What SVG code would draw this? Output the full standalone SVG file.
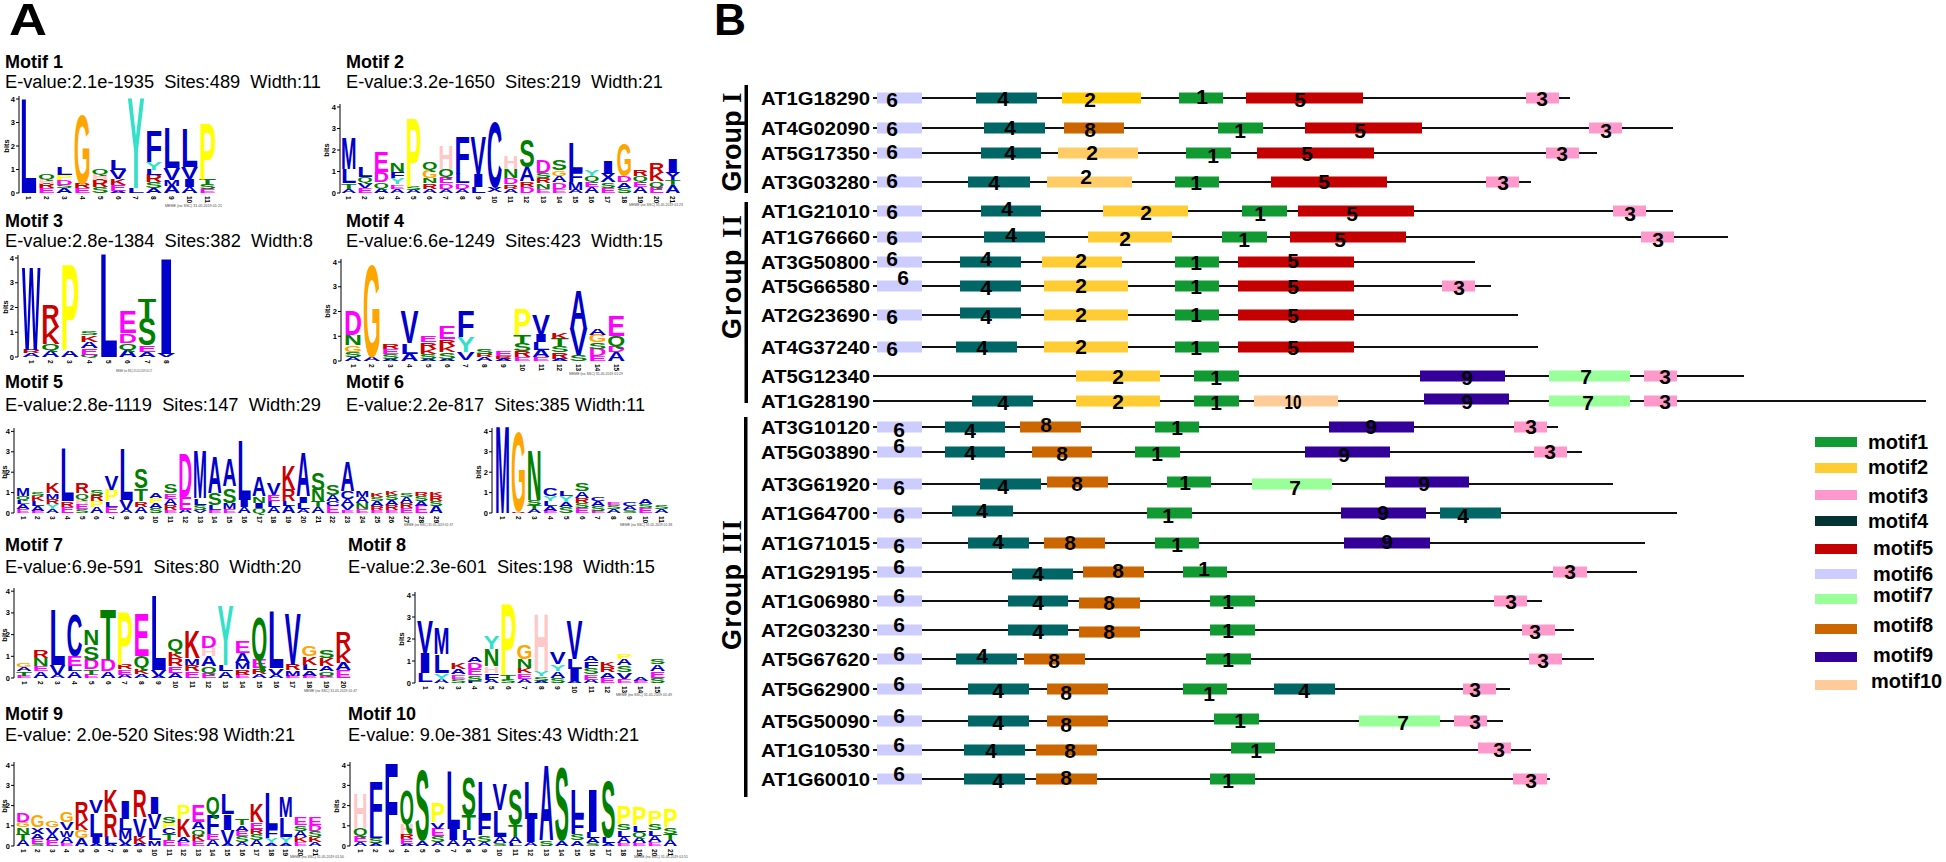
<svg xmlns="http://www.w3.org/2000/svg" width="1946" height="862" viewBox="0 0 1946 862">
<style>
text{font-family:'Liberation Sans',Arial,sans-serif}
.big{font-size:44px;font-weight:900}
.h{font-size:18px;font-weight:bold}
.e{font-size:18px;white-space:pre}
.lg text{font-size:1.42px;font-weight:bold}
.B{fill:#0000cc}.G{fill:#008000}.M{fill:#ff00ff}.R{fill:#cc0000}.P{fill:#ffc8c8}.O{fill:#ffa500}.Y{fill:#ffff00}.T{fill:#33e0c8}
.ax{stroke:#000;stroke-width:1;fill:none}
.tk{font-size:7.5px;font-weight:bold;text-anchor:end}
.bt{font-size:7.5px;font-weight:bold;text-anchor:middle}
.cn text{font-size:6.5px;font-weight:bold}
.mm{font-size:4px;fill:#444}
.lab{font-size:18px;font-weight:bold}
.ln{stroke:#111;stroke-width:2;fill:none}
.nm{font-size:21px;font-weight:bold;text-anchor:middle}
.grp{font-size:27px;font-weight:bold;text-anchor:middle}
.ser{font-family:'Liberation Serif','Times New Roman',serif}
.leg{font-size:20px;font-weight:bold}
.m1{fill:#129a32}.m2{fill:#ffcc33}.m3{fill:#ff99cc}.m4{fill:#006666}.m5{fill:#c40000}.m6{fill:#ccccff}.m7{fill:#99ff99}.m8{fill:#cc6600}.m9{fill:#330099}.m10{fill:#ffcc99}
</style>

<g id="panelA">
<text class="big" x="9" y="35" textLength="38" lengthAdjust="spacingAndGlyphs">A</text>

<g id="motif1-title">
<text class="h" x="5" y="68">Motif 1</text>
<text class="e" x="5" y="88" textLength="316" lengthAdjust="spacingAndGlyphs">E-value:2.1e-1935  Sites:489  Width:11</text>
</g>
<g id="motif2-title">
<text class="h" x="346" y="68">Motif 2</text>
<text class="e" x="346" y="88" textLength="317" lengthAdjust="spacingAndGlyphs">E-value:3.2e-1650  Sites:219  Width:21</text>
</g>
<g id="motif3-title">
<text class="h" x="5" y="227">Motif 3</text>
<text class="e" x="5" y="247" textLength="308" lengthAdjust="spacingAndGlyphs">E-value:2.8e-1384  Sites:382  Width:8</text>
</g>
<g id="motif4-title">
<text class="h" x="346" y="227">Motif 4</text>
<text class="e" x="346" y="247" textLength="317" lengthAdjust="spacingAndGlyphs">E-value:6.6e-1249  Sites:423  Width:15</text>
</g>
<g id="motif5-title">
<text class="h" x="5" y="388">Motif 5</text>
<text class="e" x="5" y="411" textLength="316" lengthAdjust="spacingAndGlyphs">E-value:2.8e-1119  Sites:147  Width:29</text>
</g>
<g id="motif6-title">
<text class="h" x="346" y="388">Motif 6</text>
<text class="e" x="346" y="411" textLength="299" lengthAdjust="spacingAndGlyphs">E-value:2.2e-817  Sites:385 Width:11</text>
</g>
<g id="motif7-title">
<text class="h" x="5" y="551">Motif 7</text>
<text class="e" x="5" y="573" textLength="296" lengthAdjust="spacingAndGlyphs">E-value:6.9e-591  Sites:80  Width:20</text>
</g>
<g id="motif8-title">
<text class="h" x="348" y="551">Motif 8</text>
<text class="e" x="348" y="573" textLength="307" lengthAdjust="spacingAndGlyphs">E-value:2.3e-601  Sites:198  Width:15</text>
</g>
<g id="motif9-title">
<text class="h" x="5" y="720">Motif 9</text>
<text class="e" x="5" y="741" textLength="290" lengthAdjust="spacingAndGlyphs">E-value: 2.0e-520 Sites:98 Width:21</text>
</g>
<g id="motif10-title">
<text class="h" x="348" y="720">Motif 10</text>
<text class="e" x="348" y="741" textLength="291" lengthAdjust="spacingAndGlyphs">E-value: 9.0e-381 Sites:43 Width:21</text>
</g>

<g id="axes">
<path class="ax" d="M19,193V96M16,193H19M16,169.5H19M16,146H19M16,122.5H19M16,99H19"/>
<text class="tk" x="15" y="195.5">0</text><text class="tk" x="15" y="172">1</text><text class="tk" x="15" y="148.5">2</text><text class="tk" x="15" y="125">3</text><text class="tk" x="15" y="101.5">4</text>
<text class="bt" transform="translate(9,146) rotate(-90)">bits</text>

<path class="ax" d="M340,193V104M337,193H340M337,171.5H340M337,150H340M337,128.5H340M337,107H340"/>
<text class="tk" x="336" y="195.5">0</text><text class="tk" x="336" y="174">1</text><text class="tk" x="336" y="152.5">2</text><text class="tk" x="336" y="131">3</text><text class="tk" x="336" y="109.5">4</text>
<text class="bt" transform="translate(329,150) rotate(-90)">bits</text>

<path class="ax" d="M18,357V255M15,357H18M15,332.25H18M15,307.5H18M15,282.75H18M15,258H18"/>
<text class="tk" x="14" y="359.5">0</text><text class="tk" x="14" y="334.75">1</text><text class="tk" x="14" y="310">2</text><text class="tk" x="14" y="285.25">3</text><text class="tk" x="14" y="260.5">4</text>
<text class="bt" transform="translate(8,307) rotate(-90)">bits</text>

<path class="ax" d="M341,361V259M338,361H341M338,336.25H341M338,311.5H341M338,286.75H341M338,262H341"/>
<text class="tk" x="337" y="363.5">0</text><text class="tk" x="337" y="338.75">1</text><text class="tk" x="337" y="314">2</text><text class="tk" x="337" y="289.25">3</text><text class="tk" x="337" y="264.5">4</text>
<text class="bt" transform="translate(330,311) rotate(-90)">bits</text>

<path class="ax" d="M14,513V428M11,513H14M11,492.6H14M11,472.2H14M11,451.8H14M11,431.4H14"/>
<text class="tk" x="10" y="515.5">0</text><text class="tk" x="10" y="495">1</text><text class="tk" x="10" y="474.7">2</text><text class="tk" x="10" y="454.3">3</text><text class="tk" x="10" y="434">4</text>
<text class="bt" transform="translate(7,472) rotate(-90)">bits</text>

<path class="ax" d="M492,513V428M489,513H492M489,492.6H492M489,472.2H492M489,451.8H492M489,431.4H492"/>
<text class="tk" x="488" y="515.5">0</text><text class="tk" x="488" y="495">1</text><text class="tk" x="488" y="474.7">2</text><text class="tk" x="488" y="454.3">3</text><text class="tk" x="488" y="434">4</text>
<text class="bt" transform="translate(481,472) rotate(-90)">bits</text>

<path class="ax" d="M14,678V588M11,678H14M11,656.3H14M11,634.6H14M11,612.9H14M11,591.2H14"/>
<text class="tk" x="10" y="680.5">0</text><text class="tk" x="10" y="658.8">1</text><text class="tk" x="10" y="637">2</text><text class="tk" x="10" y="615.4">3</text><text class="tk" x="10" y="593.7">4</text>
<text class="bt" transform="translate(7,635) rotate(-90)">bits</text>

<path class="ax" d="M415,683V592M412,683H415M412,661H415M412,639H415M412,617H415M412,595H415"/>
<text class="tk" x="411" y="685.5">0</text><text class="tk" x="411" y="663.5">1</text><text class="tk" x="411" y="641.5">2</text><text class="tk" x="411" y="619.5">3</text><text class="tk" x="411" y="597.5">4</text>
<text class="bt" transform="translate(404,639) rotate(-90)">bits</text>

<path class="ax" d="M14,846V762M11,846H14M11,825.8H14M11,805.6H14M11,785.4H14M11,765.2H14"/>
<text class="tk" x="10" y="848.5">0</text><text class="tk" x="10" y="828.3">1</text><text class="tk" x="10" y="808">2</text><text class="tk" x="10" y="788">3</text><text class="tk" x="10" y="767.7">4</text>
<text class="bt" transform="translate(7,806) rotate(-90)">bits</text>

<path class="ax" d="M350,846V762M347,846H350M347,825.8H350M347,805.6H350M347,785.4H350M347,765.2H350"/>
<text class="tk" x="346" y="848.5">0</text><text class="tk" x="346" y="828.3">1</text><text class="tk" x="346" y="808">2</text><text class="tk" x="346" y="788">3</text><text class="tk" x="346" y="767.7">4</text>
<text class="bt" transform="translate(339,806) rotate(-90)">bits</text>
</g>

<g class="cn" transform="translate(0,196) rotate(90)"><text y="-26">1</text><text y="-43.9">2</text><text y="-61.8">3</text><text y="-79.7">4</text><text y="-97.6">5</text><text y="-115.5">6</text><text y="-133.4">7</text><text y="-151.3">8</text><text y="-169.2">9</text><text y="-187.1">10</text><text y="-205">11</text></g>
<g class="cn" transform="translate(0,196) rotate(90)"><text y="-346.25">1</text><text y="-362.45">2</text><text y="-378.65">3</text><text y="-394.85">4</text><text y="-411.05">5</text><text y="-427.25">6</text><text y="-443.45">7</text><text y="-459.65">8</text><text y="-475.85">9</text><text y="-492.05">10</text><text y="-508.25">11</text><text y="-524.45">12</text><text y="-540.65">13</text><text y="-556.85">14</text><text y="-573.05">15</text><text y="-589.25">16</text><text y="-605.45">17</text><text y="-621.65">18</text><text y="-637.85">19</text><text y="-654.05">20</text><text y="-670.25">21</text></g>
<g class="cn" transform="translate(0,360) rotate(90)"><text y="-28.75">1</text><text y="-48.05">2</text><text y="-67.35">3</text><text y="-86.65">4</text><text y="-105.95">5</text><text y="-125.25">6</text><text y="-144.55">7</text><text y="-163.85">8</text></g>
<g class="cn" transform="translate(0,364) rotate(90)"><text y="-350.5">1</text><text y="-369.3">2</text><text y="-388.1">3</text><text y="-406.9">4</text><text y="-425.7">5</text><text y="-444.5">6</text><text y="-463.3">7</text><text y="-482.1">8</text><text y="-500.9">9</text><text y="-519.7">10</text><text y="-538.5">11</text><text y="-557.3">12</text><text y="-576.1">13</text><text y="-594.9">14</text><text y="-613.7">15</text></g>
<g class="cn" transform="translate(0,516) rotate(90)"><text y="-20.5">1</text><text y="-35.25">2</text><text y="-50">3</text><text y="-64.75">4</text><text y="-79.5">5</text><text y="-94.25">6</text><text y="-109">7</text><text y="-123.75">8</text><text y="-138.5">9</text><text y="-153.25">10</text><text y="-168">11</text><text y="-182.75">12</text><text y="-197.5">13</text><text y="-212.25">14</text><text y="-227">15</text><text y="-241.75">16</text><text y="-256.5">17</text><text y="-271.25">18</text><text y="-286">19</text><text y="-300.75">20</text><text y="-315.5">21</text><text y="-330.25">22</text><text y="-345">23</text><text y="-359.75">24</text><text y="-374.5">25</text><text y="-389.25">26</text><text y="-404">27</text><text y="-418.75">28</text><text y="-433.5">29</text></g>
<g class="cn" transform="translate(0,516) rotate(90)"><text y="-500">1</text><text y="-515.9">2</text><text y="-531.8">3</text><text y="-547.7">4</text><text y="-563.6">5</text><text y="-579.5">6</text><text y="-595.4">7</text><text y="-611.3">8</text><text y="-627.2">9</text><text y="-643.1">10</text><text y="-659">11</text></g>
<g class="cn" transform="translate(0,681) rotate(90)"><text y="-21.5">1</text><text y="-38.3">2</text><text y="-55.1">3</text><text y="-71.9">4</text><text y="-88.7">5</text><text y="-105.5">6</text><text y="-122.3">7</text><text y="-139.1">8</text><text y="-155.9">9</text><text y="-172.7">10</text><text y="-189.5">11</text><text y="-206.3">12</text><text y="-223.1">13</text><text y="-239.9">14</text><text y="-256.7">15</text><text y="-273.5">16</text><text y="-290.3">17</text><text y="-307.1">18</text><text y="-323.9">19</text><text y="-340.7">20</text></g>
<g class="cn" transform="translate(0,686) rotate(90)"><text y="-422.5">1</text><text y="-439.1">2</text><text y="-455.7">3</text><text y="-472.3">4</text><text y="-488.9">5</text><text y="-505.5">6</text><text y="-522.1">7</text><text y="-538.7">8</text><text y="-555.3">9</text><text y="-571.9">10</text><text y="-588.5">11</text><text y="-605.1">12</text><text y="-621.7">13</text><text y="-638.3">14</text><text y="-654.9">15</text></g>
<g class="cn" transform="translate(0,849) rotate(90)"><text y="-20.5">1</text><text y="-35.1">2</text><text y="-49.7">3</text><text y="-64.3">4</text><text y="-78.9">5</text><text y="-93.5">6</text><text y="-108.1">7</text><text y="-122.7">8</text><text y="-137.3">9</text><text y="-151.9">10</text><text y="-166.5">11</text><text y="-181.1">12</text><text y="-195.7">13</text><text y="-210.3">14</text><text y="-224.9">15</text><text y="-239.5">16</text><text y="-254.1">17</text><text y="-268.7">18</text><text y="-283.3">19</text><text y="-297.9">20</text><text y="-312.5">21</text></g>
<g class="cn" transform="translate(0,849) rotate(90)"><text y="-357.75">1</text><text y="-373.25">2</text><text y="-388.75">3</text><text y="-404.25">4</text><text y="-419.75">5</text><text y="-435.25">6</text><text y="-450.75">7</text><text y="-466.25">8</text><text y="-481.75">9</text><text y="-497.25">10</text><text y="-512.75">11</text><text y="-528.25">12</text><text y="-543.75">13</text><text y="-559.25">14</text><text y="-574.75">15</text><text y="-590.25">16</text><text y="-605.75">17</text><text y="-621.25">18</text><text y="-636.75">19</text><text y="-652.25">20</text><text y="-667.75">21</text></g>

<g id="meme-stamps">
<text class="mm" x="165" y="207" textLength="57" lengthAdjust="spacingAndGlyphs">MEME (no SSC) 31.05.2019 01:21</text>
<text class="mm" x="629" y="206" textLength="54" lengthAdjust="spacingAndGlyphs">MEME (no SSC) 31.05.2019 01:23</text>
<text class="mm" x="116" y="372" textLength="36" lengthAdjust="spacingAndGlyphs">MEME (no SSC) 31.05.2019 01:27</text>
<text class="mm" x="569" y="375" textLength="54" lengthAdjust="spacingAndGlyphs">MEME (no SSC) 31.05.2019 01:29</text>
<text class="mm" x="404" y="526" textLength="49" lengthAdjust="spacingAndGlyphs">MEME (no SSC) 31.05.2019 01:37</text>
<text class="mm" x="620" y="526" textLength="52" lengthAdjust="spacingAndGlyphs">MEME (no SSC) 31.05.2019 01:38</text>
<text class="mm" x="304" y="692" textLength="53" lengthAdjust="spacingAndGlyphs">MEME (no SSC) 31.05.2019 01:47</text>
<text class="mm" x="616" y="696" textLength="56" lengthAdjust="spacingAndGlyphs">MEME (no SSC) 31.05.2019 01:49</text>
<text class="mm" x="290" y="858" textLength="54" lengthAdjust="spacingAndGlyphs">MEME (no SSC) 31.05.2019 01:50</text>
<text class="mm" x="634" y="858" textLength="54" lengthAdjust="spacingAndGlyphs">MEME (no SSC) 31.05.2019 01:51</text>
</g>

<g id="logo1" class="lg" transform="translate(20,193) scale(1,23.5)">
<text class="B" transform="translate(0,0)scale(1,4.05)" textLength="17" lengthAdjust="spacingAndGlyphs">L</text>
<text class="M" transform="translate(17.9,0)scale(1,.2)" textLength="17" lengthAdjust="spacingAndGlyphs">E</text>
<text class="R" transform="translate(17.9,-.2)scale(1,.2)" textLength="17" lengthAdjust="spacingAndGlyphs">R</text>
<text class="P" transform="translate(17.9,-.4)scale(1,.2)" textLength="17" lengthAdjust="spacingAndGlyphs">H</text>
<text class="G" transform="translate(17.9,-.6)scale(1,.2)" textLength="17" lengthAdjust="spacingAndGlyphs">Q</text>
<text class="B" transform="translate(35.8,0)scale(1,.2)" textLength="17" lengthAdjust="spacingAndGlyphs">A</text>
<text class="G" transform="translate(35.8,-.2)scale(1,.15)" textLength="17" lengthAdjust="spacingAndGlyphs">S</text>
<text class="M" transform="translate(35.8,-.35)scale(1,.2)" textLength="17" lengthAdjust="spacingAndGlyphs">D</text>
<text class="Y" transform="translate(35.8,-.55)scale(1,.2)" textLength="17" lengthAdjust="spacingAndGlyphs">P</text>
<text class="B" transform="translate(35.8,-.75)scale(1,.3)" textLength="17" lengthAdjust="spacingAndGlyphs">L</text>
<text class="M" transform="translate(53.7,0)scale(1,.2)" textLength="17" lengthAdjust="spacingAndGlyphs">E</text>
<text class="R" transform="translate(53.7,-.2)scale(1,.2)" textLength="17" lengthAdjust="spacingAndGlyphs">R</text>
<text class="O" transform="translate(53.7,-.4)scale(1,2.95)" textLength="17" lengthAdjust="spacingAndGlyphs">G</text>
<text class="G" transform="translate(71.6,0)scale(1,.25)" textLength="17" lengthAdjust="spacingAndGlyphs">S</text>
<text class="R" transform="translate(71.6,-.25)scale(1,.3)" textLength="17" lengthAdjust="spacingAndGlyphs">R</text>
<text class="P" transform="translate(71.6,-.55)scale(1,.25)" textLength="17" lengthAdjust="spacingAndGlyphs">H</text>
<text class="G" transform="translate(71.6,-.8)scale(1,.23)" textLength="17" lengthAdjust="spacingAndGlyphs">Q</text>
<text class="B" transform="translate(89.5,0)scale(1,.1)" textLength="17" lengthAdjust="spacingAndGlyphs">A</text>
<text class="M" transform="translate(89.5,-.1)scale(1,.25)" textLength="17" lengthAdjust="spacingAndGlyphs">E</text>
<text class="R" transform="translate(89.5,-.35)scale(1,.25)" textLength="17" lengthAdjust="spacingAndGlyphs">K</text>
<text class="B" transform="translate(89.5,-.6)scale(1,.4)" textLength="17" lengthAdjust="spacingAndGlyphs">V</text>
<text class="B" transform="translate(89.5,-1)scale(1,.42)" textLength="17" lengthAdjust="spacingAndGlyphs">L</text>
<text class="B" transform="translate(107.4,0)scale(1,.2)" textLength="17" lengthAdjust="spacingAndGlyphs">L</text>
<text class="T" transform="translate(107.4,-.2)scale(1,3.9)" textLength="17" lengthAdjust="spacingAndGlyphs">Y</text>
<text class="B" transform="translate(125.3,0)scale(1,.2)" textLength="17" lengthAdjust="spacingAndGlyphs">A</text>
<text class="G" transform="translate(125.3,-.2)scale(1,.25)" textLength="17" lengthAdjust="spacingAndGlyphs">S</text>
<text class="R" transform="translate(125.3,-.45)scale(1,.3)" textLength="17" lengthAdjust="spacingAndGlyphs">R</text>
<text class="B" transform="translate(125.3,-.75)scale(1,.25)" textLength="17" lengthAdjust="spacingAndGlyphs">L</text>
<text class="T" transform="translate(125.3,-1)scale(1,.3)" textLength="17" lengthAdjust="spacingAndGlyphs">Y</text>
<text class="B" transform="translate(125.3,-1.3)scale(1,1.32)" textLength="17" lengthAdjust="spacingAndGlyphs">F</text>
<text class="B" transform="translate(143.2,0)scale(1,.3)" textLength="17" lengthAdjust="spacingAndGlyphs">A</text>
<text class="B" transform="translate(143.2,-.3)scale(1,.25)" textLength="17" lengthAdjust="spacingAndGlyphs">M</text>
<text class="B" transform="translate(143.2,-.55)scale(1,.5)" textLength="17" lengthAdjust="spacingAndGlyphs">V</text>
<text class="B" transform="translate(143.2,-1.05)scale(1,1.72)" textLength="17" lengthAdjust="spacingAndGlyphs">L</text>
<text class="B" transform="translate(161.1,0)scale(1,.25)" textLength="17" lengthAdjust="spacingAndGlyphs">A</text>
<text class="B" transform="translate(161.1,-.25)scale(1,.35)" textLength="17" lengthAdjust="spacingAndGlyphs">I</text>
<text class="B" transform="translate(161.1,-.6)scale(1,.5)" textLength="17" lengthAdjust="spacingAndGlyphs">V</text>
<text class="B" transform="translate(161.1,-1.1)scale(1,1.67)" textLength="17" lengthAdjust="spacingAndGlyphs">L</text>
<text class="M" transform="translate(179,0)scale(1,.15)" textLength="17" lengthAdjust="spacingAndGlyphs">E</text>
<text class="G" transform="translate(179,-.15)scale(1,.2)" textLength="17" lengthAdjust="spacingAndGlyphs">S</text>
<text class="G" transform="translate(179,-.35)scale(1,.25)" textLength="17" lengthAdjust="spacingAndGlyphs">T</text>
<text class="Y" transform="translate(179,-.6)scale(1,2.38)" textLength="17" lengthAdjust="spacingAndGlyphs">P</text>
</g>

<g id="logo2" class="lg" transform="translate(341,193) scale(1,21.5)">
<text class="B" transform="translate(0,0)scale(1,.2)" textLength="15.5" lengthAdjust="spacingAndGlyphs">A</text>
<text class="G" transform="translate(0,-.2)scale(1,.25)" textLength="15.5" lengthAdjust="spacingAndGlyphs">T</text>
<text class="B" transform="translate(0,-.45)scale(1,.65)" textLength="15.5" lengthAdjust="spacingAndGlyphs">L</text>
<text class="B" transform="translate(0,-1.1)scale(1,1.46)" textLength="15.5" lengthAdjust="spacingAndGlyphs">M</text>
<text class="M" transform="translate(16.2,0)scale(1,.25)" textLength="15.5" lengthAdjust="spacingAndGlyphs">E</text>
<text class="B" transform="translate(16.2,-.25)scale(1,.25)" textLength="15.5" lengthAdjust="spacingAndGlyphs">V</text>
<text class="G" transform="translate(16.2,-.5)scale(1,.25)" textLength="15.5" lengthAdjust="spacingAndGlyphs">Q</text>
<text class="B" transform="translate(16.2,-.75)scale(1,.5)" textLength="15.5" lengthAdjust="spacingAndGlyphs">L</text>
<text class="B" transform="translate(32.4,0)scale(1,.25)" textLength="15.5" lengthAdjust="spacingAndGlyphs">A</text>
<text class="G" transform="translate(32.4,-.25)scale(1,.25)" textLength="15.5" lengthAdjust="spacingAndGlyphs">Q</text>
<text class="M" transform="translate(32.4,-.5)scale(1,.47)" textLength="15.5" lengthAdjust="spacingAndGlyphs">D</text>
<text class="M" transform="translate(32.4,-.97)scale(1,.97)" textLength="15.5" lengthAdjust="spacingAndGlyphs">E</text>
<text class="B" transform="translate(48.6,0)scale(1,.2)" textLength="15.5" lengthAdjust="spacingAndGlyphs">A</text>
<text class="M" transform="translate(48.6,-.2)scale(1,.2)" textLength="15.5" lengthAdjust="spacingAndGlyphs">E</text>
<text class="T" transform="translate(48.6,-.4)scale(1,.3)" textLength="15.5" lengthAdjust="spacingAndGlyphs">Y</text>
<text class="B" transform="translate(48.6,-.7)scale(1,.3)" textLength="15.5" lengthAdjust="spacingAndGlyphs">F</text>
<text class="G" transform="translate(48.6,-1)scale(1,.4)" textLength="15.5" lengthAdjust="spacingAndGlyphs">N</text>
<text class="B" transform="translate(64.8,0)scale(1,.15)" textLength="15.5" lengthAdjust="spacingAndGlyphs">A</text>
<text class="G" transform="translate(64.8,-.15)scale(1,.15)" textLength="15.5" lengthAdjust="spacingAndGlyphs">S</text>
<text class="Y" transform="translate(64.8,-.3)scale(1,3.2)" textLength="15.5" lengthAdjust="spacingAndGlyphs">P</text>
<text class="B" transform="translate(81,0)scale(1,.2)" textLength="15.5" lengthAdjust="spacingAndGlyphs">A</text>
<text class="R" transform="translate(81,-.2)scale(1,.25)" textLength="15.5" lengthAdjust="spacingAndGlyphs">R</text>
<text class="G" transform="translate(81,-.45)scale(1,.25)" textLength="15.5" lengthAdjust="spacingAndGlyphs">N</text>
<text class="O" transform="translate(81,-.7)scale(1,.35)" textLength="15.5" lengthAdjust="spacingAndGlyphs">G</text>
<text class="G" transform="translate(81,-1.05)scale(1,.35)" textLength="15.5" lengthAdjust="spacingAndGlyphs">Q</text>
<text class="B" transform="translate(97.2,0)scale(1,.2)" textLength="15.5" lengthAdjust="spacingAndGlyphs">A</text>
<text class="M" transform="translate(97.2,-.2)scale(1,.25)" textLength="15.5" lengthAdjust="spacingAndGlyphs">D</text>
<text class="M" transform="translate(97.2,-.45)scale(1,.3)" textLength="15.5" lengthAdjust="spacingAndGlyphs">E</text>
<text class="G" transform="translate(97.2,-.75)scale(1,.35)" textLength="15.5" lengthAdjust="spacingAndGlyphs">Q</text>
<text class="P" transform="translate(97.2,-1.1)scale(1,1.07)" textLength="15.5" lengthAdjust="spacingAndGlyphs">H</text>
<text class="B" transform="translate(113.4,0)scale(1,.2)" textLength="15.5" lengthAdjust="spacingAndGlyphs">A</text>
<text class="M" transform="translate(113.4,-.2)scale(1,.25)" textLength="15.5" lengthAdjust="spacingAndGlyphs">D</text>
<text class="B" transform="translate(113.4,-.45)scale(1,.45)" textLength="15.5" lengthAdjust="spacingAndGlyphs">L</text>
<text class="B" transform="translate(113.4,-.9)scale(1,1.74)" textLength="15.5" lengthAdjust="spacingAndGlyphs">F</text>
<text class="B" transform="translate(129.6,0)scale(1,.3)" textLength="15.5" lengthAdjust="spacingAndGlyphs">L</text>
<text class="B" transform="translate(129.6,-.3)scale(1,.6)" textLength="15.5" lengthAdjust="spacingAndGlyphs">I</text>
<text class="B" transform="translate(129.6,-.9)scale(1,1.74)" textLength="15.5" lengthAdjust="spacingAndGlyphs">V</text>
<text class="B" transform="translate(145.8,-.05)scale(1,.25)" textLength="15.5" lengthAdjust="spacingAndGlyphs">X</text>
<text class="B" transform="translate(145.8,-.3)scale(1,3.03)" textLength="15.5" lengthAdjust="spacingAndGlyphs">C</text>
<text class="B" transform="translate(162,0)scale(1,.2)" textLength="15.5" lengthAdjust="spacingAndGlyphs">A</text>
<text class="R" transform="translate(162,-.2)scale(1,.2)" textLength="15.5" lengthAdjust="spacingAndGlyphs">R</text>
<text class="M" transform="translate(162,-.4)scale(1,.3)" textLength="15.5" lengthAdjust="spacingAndGlyphs">D</text>
<text class="G" transform="translate(162,-.7)scale(1,.4)" textLength="15.5" lengthAdjust="spacingAndGlyphs">N</text>
<text class="P" transform="translate(162,-1.1)scale(1,.6)" textLength="15.5" lengthAdjust="spacingAndGlyphs">H</text>
<text class="M" transform="translate(178.2,0)scale(1,.3)" textLength="15.5" lengthAdjust="spacingAndGlyphs">D</text>
<text class="R" transform="translate(178.2,-.3)scale(1,.25)" textLength="15.5" lengthAdjust="spacingAndGlyphs">R</text>
<text class="B" transform="translate(178.2,-.55)scale(1,.65)" textLength="15.5" lengthAdjust="spacingAndGlyphs">A</text>
<text class="G" transform="translate(178.2,-1.2)scale(1,1.28)" textLength="15.5" lengthAdjust="spacingAndGlyphs">S</text>
<text class="M" transform="translate(194.4,0)scale(1,.2)" textLength="15.5" lengthAdjust="spacingAndGlyphs">E</text>
<text class="G" transform="translate(194.4,-.2)scale(1,.25)" textLength="15.5" lengthAdjust="spacingAndGlyphs">N</text>
<text class="R" transform="translate(194.4,-.45)scale(1,.25)" textLength="15.5" lengthAdjust="spacingAndGlyphs">R</text>
<text class="G" transform="translate(194.4,-.7)scale(1,.25)" textLength="15.5" lengthAdjust="spacingAndGlyphs">S</text>
<text class="M" transform="translate(194.4,-.95)scale(1,.6)" textLength="15.5" lengthAdjust="spacingAndGlyphs">D</text>
<text class="M" transform="translate(210.6,0)scale(1,.2)" textLength="15.5" lengthAdjust="spacingAndGlyphs">E</text>
<text class="M" transform="translate(210.6,-.2)scale(1,.3)" textLength="15.5" lengthAdjust="spacingAndGlyphs">D</text>
<text class="B" transform="translate(210.6,-.5)scale(1,.3)" textLength="15.5" lengthAdjust="spacingAndGlyphs">A</text>
<text class="O" transform="translate(210.6,-.8)scale(1,.25)" textLength="15.5" lengthAdjust="spacingAndGlyphs">G</text>
<text class="G" transform="translate(210.6,-1.05)scale(1,.5)" textLength="15.5" lengthAdjust="spacingAndGlyphs">S</text>
<text class="B" transform="translate(226.8,0)scale(1,.15)" textLength="15.5" lengthAdjust="spacingAndGlyphs">A</text>
<text class="B" transform="translate(226.8,-.15)scale(1,.35)" textLength="15.5" lengthAdjust="spacingAndGlyphs">M</text>
<text class="B" transform="translate(226.8,-.5)scale(1,.5)" textLength="15.5" lengthAdjust="spacingAndGlyphs">F</text>
<text class="B" transform="translate(226.8,-1)scale(1,1.4)" textLength="15.5" lengthAdjust="spacingAndGlyphs">L</text>
<text class="B" transform="translate(243,0)scale(1,.3)" textLength="15.5" lengthAdjust="spacingAndGlyphs">A</text>
<text class="M" transform="translate(243,-.3)scale(1,.25)" textLength="15.5" lengthAdjust="spacingAndGlyphs">E</text>
<text class="G" transform="translate(243,-.55)scale(1,.25)" textLength="15.5" lengthAdjust="spacingAndGlyphs">Q</text>
<text class="T" transform="translate(243,-.8)scale(1,.3)" textLength="15.5" lengthAdjust="spacingAndGlyphs">Y</text>
<text class="M" transform="translate(259.2,0)scale(1,.25)" textLength="15.5" lengthAdjust="spacingAndGlyphs">E</text>
<text class="G" transform="translate(259.2,-.25)scale(1,.25)" textLength="15.5" lengthAdjust="spacingAndGlyphs">S</text>
<text class="B" transform="translate(259.2,-.5)scale(1,.4)" textLength="15.5" lengthAdjust="spacingAndGlyphs">X</text>
<text class="B" transform="translate(259.2,-.9)scale(1,.6)" textLength="15.5" lengthAdjust="spacingAndGlyphs">I</text>
<text class="G" transform="translate(275.4,0)scale(1,.25)" textLength="15.5" lengthAdjust="spacingAndGlyphs">S</text>
<text class="B" transform="translate(275.4,-.25)scale(1,.25)" textLength="15.5" lengthAdjust="spacingAndGlyphs">A</text>
<text class="M" transform="translate(275.4,-.5)scale(1,.3)" textLength="15.5" lengthAdjust="spacingAndGlyphs">D</text>
<text class="O" transform="translate(275.4,-.8)scale(1,1.5)" textLength="15.5" lengthAdjust="spacingAndGlyphs">G</text>
<text class="B" transform="translate(291.6,0)scale(1,.3)" textLength="15.5" lengthAdjust="spacingAndGlyphs">A</text>
<text class="M" transform="translate(291.6,-.3)scale(1,.25)" textLength="15.5" lengthAdjust="spacingAndGlyphs">E</text>
<text class="G" transform="translate(291.6,-.55)scale(1,.25)" textLength="15.5" lengthAdjust="spacingAndGlyphs">Q</text>
<text class="R" transform="translate(291.6,-.8)scale(1,.3)" textLength="15.5" lengthAdjust="spacingAndGlyphs">R</text>
<text class="M" transform="translate(307.8,0)scale(1,.3)" textLength="15.5" lengthAdjust="spacingAndGlyphs">E</text>
<text class="G" transform="translate(307.8,-.3)scale(1,.25)" textLength="15.5" lengthAdjust="spacingAndGlyphs">Q</text>
<text class="R" transform="translate(307.8,-.55)scale(1,.4)" textLength="15.5" lengthAdjust="spacingAndGlyphs">K</text>
<text class="R" transform="translate(307.8,-.95)scale(1,.45)" textLength="15.5" lengthAdjust="spacingAndGlyphs">R</text>
<text class="B" transform="translate(324,0)scale(1,.35)" textLength="15.5" lengthAdjust="spacingAndGlyphs">A</text>
<text class="G" transform="translate(324,-.35)scale(1,.25)" textLength="15.5" lengthAdjust="spacingAndGlyphs">T</text>
<text class="B" transform="translate(324,-.6)scale(1,.35)" textLength="15.5" lengthAdjust="spacingAndGlyphs">Y</text>
<text class="B" transform="translate(324,-.95)scale(1,.65)" textLength="15.5" lengthAdjust="spacingAndGlyphs">I</text>
</g>

<g id="logo3" class="lg" transform="translate(22,357) scale(1,24.75)">
<text class="B" transform="translate(0,0)scale(1,.15)" textLength="18.5" lengthAdjust="spacingAndGlyphs">A</text>
<text class="R" transform="translate(0,-.15)scale(1,.15)" textLength="18.5" lengthAdjust="spacingAndGlyphs">R</text>
<text class="B" transform="translate(0,-.3)scale(1,3.36)" textLength="18.5" lengthAdjust="spacingAndGlyphs">W</text>
<text class="B" transform="translate(19.3,0)scale(1,.27)" textLength="18.5" lengthAdjust="spacingAndGlyphs">A</text>
<text class="G" transform="translate(19.3,-.27)scale(1,.27)" textLength="18.5" lengthAdjust="spacingAndGlyphs">Q</text>
<text class="R" transform="translate(19.3,-.54)scale(1,.68)" textLength="18.5" lengthAdjust="spacingAndGlyphs">K</text>
<text class="R" transform="translate(19.3,-1.22)scale(1,.88)" textLength="18.5" lengthAdjust="spacingAndGlyphs">R</text>
<text class="B" transform="translate(38.6,0)scale(1,.27)" textLength="18.5" lengthAdjust="spacingAndGlyphs">A</text>
<text class="Y" transform="translate(38.6,-.27)scale(1,3.46)" textLength="18.5" lengthAdjust="spacingAndGlyphs">P</text>
<text class="G" transform="translate(57.9,0)scale(1,.1)" textLength="18.5" lengthAdjust="spacingAndGlyphs">Q</text>
<text class="M" transform="translate(57.9,-.1)scale(1,.25)" textLength="18.5" lengthAdjust="spacingAndGlyphs">E</text>
<text class="B" transform="translate(57.9,-.35)scale(1,.25)" textLength="18.5" lengthAdjust="spacingAndGlyphs">A</text>
<text class="R" transform="translate(57.9,-.6)scale(1,.28)" textLength="18.5" lengthAdjust="spacingAndGlyphs">K</text>
<text class="G" transform="translate(57.9,-.88)scale(1,.14)" textLength="18.5" lengthAdjust="spacingAndGlyphs">S</text>
<text class="B" transform="translate(77.2,0)scale(1,4.2)" textLength="18.5" lengthAdjust="spacingAndGlyphs">L</text>
<text class="B" transform="translate(96.5,0)scale(1,.3)" textLength="18.5" lengthAdjust="spacingAndGlyphs">A</text>
<text class="G" transform="translate(96.5,-.3)scale(1,.27)" textLength="18.5" lengthAdjust="spacingAndGlyphs">Q</text>
<text class="M" transform="translate(96.5,-.57)scale(1,.38)" textLength="18.5" lengthAdjust="spacingAndGlyphs">D</text>
<text class="M" transform="translate(96.5,-.95)scale(1,.88)" textLength="18.5" lengthAdjust="spacingAndGlyphs">E</text>
<text class="B" transform="translate(115.8,0)scale(1,.2)" textLength="18.5" lengthAdjust="spacingAndGlyphs">A</text>
<text class="M" transform="translate(115.8,-.2)scale(1,.27)" textLength="18.5" lengthAdjust="spacingAndGlyphs">E</text>
<text class="G" transform="translate(115.8,-.47)scale(1,1.09)" textLength="18.5" lengthAdjust="spacingAndGlyphs">S</text>
<text class="G" transform="translate(115.8,-1.56)scale(1,.81)" textLength="18.5" lengthAdjust="spacingAndGlyphs">T</text>
<text class="B" transform="translate(135.1,0)scale(1,.14)" textLength="18.5" lengthAdjust="spacingAndGlyphs">V</text>
<text class="B" transform="translate(135.1,-.14)scale(1,3.93)" textLength="18.5" lengthAdjust="spacingAndGlyphs">I</text>
</g>

<g id="logo4" class="lg" transform="translate(344,361) scale(1,24.75)">
<text class="B" transform="translate(0,0)scale(1,.17)" textLength="18" lengthAdjust="spacingAndGlyphs">A</text>
<text class="G" transform="translate(0,-.17)scale(1,.21)" textLength="18" lengthAdjust="spacingAndGlyphs">S</text>
<text class="O" transform="translate(0,-.38)scale(1,.26)" textLength="18" lengthAdjust="spacingAndGlyphs">G</text>
<text class="G" transform="translate(0,-.64)scale(1,.41)" textLength="18" lengthAdjust="spacingAndGlyphs">N</text>
<text class="M" transform="translate(0,-1.05)scale(1,1)" textLength="18" lengthAdjust="spacingAndGlyphs">D</text>
<text class="B" transform="translate(18.8,0)scale(1,.17)" textLength="18" lengthAdjust="spacingAndGlyphs">A</text>
<text class="O" transform="translate(18.8,-.17)scale(1,3.76)" textLength="18" lengthAdjust="spacingAndGlyphs">G</text>
<text class="B" transform="translate(37.6,0)scale(1,.1)" textLength="18" lengthAdjust="spacingAndGlyphs">A</text>
<text class="G" transform="translate(37.6,-.1)scale(1,.2)" textLength="18" lengthAdjust="spacingAndGlyphs">S</text>
<text class="M" transform="translate(37.6,-.3)scale(1,.2)" textLength="18" lengthAdjust="spacingAndGlyphs">E</text>
<text class="R" transform="translate(37.6,-.5)scale(1,.2)" textLength="18" lengthAdjust="spacingAndGlyphs">R</text>
<text class="B" transform="translate(56.4,0)scale(1,.3)" textLength="18" lengthAdjust="spacingAndGlyphs">A</text>
<text class="B" transform="translate(56.4,-.3)scale(1,.41)" textLength="18" lengthAdjust="spacingAndGlyphs">L</text>
<text class="B" transform="translate(56.4,-.71)scale(1,1.34)" textLength="18" lengthAdjust="spacingAndGlyphs">V</text>
<text class="B" transform="translate(75.2,0)scale(1,.1)" textLength="18" lengthAdjust="spacingAndGlyphs">A</text>
<text class="G" transform="translate(75.2,-.1)scale(1,.2)" textLength="18" lengthAdjust="spacingAndGlyphs">S</text>
<text class="R" transform="translate(75.2,-.3)scale(1,.2)" textLength="18" lengthAdjust="spacingAndGlyphs">K</text>
<text class="R" transform="translate(75.2,-.5)scale(1,.25)" textLength="18" lengthAdjust="spacingAndGlyphs">R</text>
<text class="M" transform="translate(75.2,-.75)scale(1,.25)" textLength="18" lengthAdjust="spacingAndGlyphs">E</text>
<text class="B" transform="translate(94,0)scale(1,.1)" textLength="18" lengthAdjust="spacingAndGlyphs">A</text>
<text class="G" transform="translate(94,-.1)scale(1,.25)" textLength="18" lengthAdjust="spacingAndGlyphs">S</text>
<text class="R" transform="translate(94,-.35)scale(1,.25)" textLength="18" lengthAdjust="spacingAndGlyphs">K</text>
<text class="R" transform="translate(94,-.6)scale(1,.27)" textLength="18" lengthAdjust="spacingAndGlyphs">R</text>
<text class="M" transform="translate(94,-.87)scale(1,.53)" textLength="18" lengthAdjust="spacingAndGlyphs">E</text>
<text class="B" transform="translate(112.8,-.05)scale(1,.3)" textLength="18" lengthAdjust="spacingAndGlyphs">V</text>
<text class="T" transform="translate(112.8,-.37)scale(1,.61)" textLength="18" lengthAdjust="spacingAndGlyphs">Y</text>
<text class="B" transform="translate(112.8,-.98)scale(1,1.07)" textLength="18" lengthAdjust="spacingAndGlyphs">F</text>
<text class="B" transform="translate(131.6,0)scale(1,.15)" textLength="18" lengthAdjust="spacingAndGlyphs">A</text>
<text class="R" transform="translate(131.6,-.15)scale(1,.15)" textLength="18" lengthAdjust="spacingAndGlyphs">R</text>
<text class="G" transform="translate(131.6,-.3)scale(1,.2)" textLength="18" lengthAdjust="spacingAndGlyphs">S</text>
<text class="B" transform="translate(150.4,0)scale(1,.1)" textLength="18" lengthAdjust="spacingAndGlyphs">A</text>
<text class="R" transform="translate(150.4,-.1)scale(1,.1)" textLength="18" lengthAdjust="spacingAndGlyphs">R</text>
<text class="M" transform="translate(150.4,-.2)scale(1,.2)" textLength="18" lengthAdjust="spacingAndGlyphs">E</text>
<text class="M" transform="translate(169.2,0)scale(1,.15)" textLength="18" lengthAdjust="spacingAndGlyphs">E</text>
<text class="R" transform="translate(169.2,-.15)scale(1,.25)" textLength="18" lengthAdjust="spacingAndGlyphs">R</text>
<text class="G" transform="translate(169.2,-.4)scale(1,.3)" textLength="18" lengthAdjust="spacingAndGlyphs">S</text>
<text class="G" transform="translate(169.2,-.7)scale(1,.35)" textLength="18" lengthAdjust="spacingAndGlyphs">T</text>
<text class="Y" transform="translate(169.2,-1.05)scale(1,1.07)" textLength="18" lengthAdjust="spacingAndGlyphs">P</text>
<text class="M" transform="translate(188,0)scale(1,.15)" textLength="18" lengthAdjust="spacingAndGlyphs">E</text>
<text class="B" transform="translate(188,-.15)scale(1,.3)" textLength="18" lengthAdjust="spacingAndGlyphs">A</text>
<text class="B" transform="translate(188,-.45)scale(1,.3)" textLength="18" lengthAdjust="spacingAndGlyphs">L</text>
<text class="B" transform="translate(188,-.75)scale(1,.3)" textLength="18" lengthAdjust="spacingAndGlyphs">I</text>
<text class="B" transform="translate(188,-1.05)scale(1,.83)" textLength="18" lengthAdjust="spacingAndGlyphs">V</text>
<text class="B" transform="translate(206.8,0)scale(1,.1)" textLength="18" lengthAdjust="spacingAndGlyphs">A</text>
<text class="R" transform="translate(206.8,-.1)scale(1,.25)" textLength="18" lengthAdjust="spacingAndGlyphs">R</text>
<text class="G" transform="translate(206.8,-.35)scale(1,.25)" textLength="18" lengthAdjust="spacingAndGlyphs">S</text>
<text class="G" transform="translate(206.8,-.6)scale(1,.3)" textLength="18" lengthAdjust="spacingAndGlyphs">T</text>
<text class="R" transform="translate(206.8,-.9)scale(1,.28)" textLength="18" lengthAdjust="spacingAndGlyphs">K</text>
<text class="G" transform="translate(225.6,0)scale(1,.24)" textLength="18" lengthAdjust="spacingAndGlyphs">S</text>
<text class="B" transform="translate(225.6,-.24)scale(1,1.08)" textLength="18" lengthAdjust="spacingAndGlyphs">V</text>
<text class="B" transform="translate(225.6,-1.32)scale(1,1.54)" textLength="18" lengthAdjust="spacingAndGlyphs">A</text>
<text class="M" transform="translate(244.4,0)scale(1,.2)" textLength="18" lengthAdjust="spacingAndGlyphs">E</text>
<text class="M" transform="translate(244.4,-.2)scale(1,.3)" textLength="18" lengthAdjust="spacingAndGlyphs">D</text>
<text class="G" transform="translate(244.4,-.5)scale(1,.25)" textLength="18" lengthAdjust="spacingAndGlyphs">S</text>
<text class="O" transform="translate(244.4,-.75)scale(1,.3)" textLength="18" lengthAdjust="spacingAndGlyphs">G</text>
<text class="B" transform="translate(244.4,-1.05)scale(1,.27)" textLength="18" lengthAdjust="spacingAndGlyphs">A</text>
<text class="B" transform="translate(263.2,0)scale(1,.35)" textLength="18" lengthAdjust="spacingAndGlyphs">A</text>
<text class="M" transform="translate(263.2,-.35)scale(1,.25)" textLength="18" lengthAdjust="spacingAndGlyphs">D</text>
<text class="G" transform="translate(263.2,-.6)scale(1,.4)" textLength="18" lengthAdjust="spacingAndGlyphs">Q</text>
<text class="M" transform="translate(263.2,-1)scale(1,.85)" textLength="18" lengthAdjust="spacingAndGlyphs">E</text>
</g>

<g id="logo5" class="lg" transform="translate(16,513) scale(1,20.4)">
<text class="M" transform="translate(0,0)scale(1,.2)" textLength="14" lengthAdjust="spacingAndGlyphs">E</text>
<text class="B" transform="translate(0,-.2)scale(1,.25)" textLength="14" lengthAdjust="spacingAndGlyphs">A</text>
<text class="B" transform="translate(0,-.45)scale(1,.2)" textLength="14" lengthAdjust="spacingAndGlyphs">L</text>
<text class="G" transform="translate(0,-.65)scale(1,.2)" textLength="14" lengthAdjust="spacingAndGlyphs">Q</text>
<text class="B" transform="translate(0,-.85)scale(1,.37)" textLength="14" lengthAdjust="spacingAndGlyphs">M</text>
<text class="M" transform="translate(14.75,0)scale(1,.1)" textLength="14" lengthAdjust="spacingAndGlyphs">E</text>
<text class="B" transform="translate(14.75,-.1)scale(1,.25)" textLength="14" lengthAdjust="spacingAndGlyphs">A</text>
<text class="B" transform="translate(14.75,-.35)scale(1,.25)" textLength="14" lengthAdjust="spacingAndGlyphs">L</text>
<text class="R" transform="translate(14.75,-.6)scale(1,.25)" textLength="14" lengthAdjust="spacingAndGlyphs">K</text>
<text class="G" transform="translate(14.75,-.85)scale(1,.21)" textLength="14" lengthAdjust="spacingAndGlyphs">S</text>
<text class="B" transform="translate(29.5,0)scale(1,.2)" textLength="14" lengthAdjust="spacingAndGlyphs">A</text>
<text class="T" transform="translate(29.5,-.2)scale(1,.25)" textLength="14" lengthAdjust="spacingAndGlyphs">Y</text>
<text class="R" transform="translate(29.5,-.45)scale(1,.25)" textLength="14" lengthAdjust="spacingAndGlyphs">R</text>
<text class="B" transform="translate(29.5,-.7)scale(1,.28)" textLength="14" lengthAdjust="spacingAndGlyphs">M</text>
<text class="R" transform="translate(29.5,-.98)scale(1,.49)" textLength="14" lengthAdjust="spacingAndGlyphs">K</text>
<text class="M" transform="translate(44.25,0)scale(1,.3)" textLength="14" lengthAdjust="spacingAndGlyphs">E</text>
<text class="R" transform="translate(44.25,-.3)scale(1,.27)" textLength="14" lengthAdjust="spacingAndGlyphs">R</text>
<text class="B" transform="translate(44.25,-.57)scale(1,2.61)" textLength="14" lengthAdjust="spacingAndGlyphs">L</text>
<text class="G" transform="translate(59,0)scale(1,.2)" textLength="14" lengthAdjust="spacingAndGlyphs">S</text>
<text class="M" transform="translate(59,-.2)scale(1,.25)" textLength="14" lengthAdjust="spacingAndGlyphs">E</text>
<text class="P" transform="translate(59,-.45)scale(1,.25)" textLength="14" lengthAdjust="spacingAndGlyphs">H</text>
<text class="G" transform="translate(59,-.7)scale(1,.28)" textLength="14" lengthAdjust="spacingAndGlyphs">Q</text>
<text class="R" transform="translate(59,-.98)scale(1,.49)" textLength="14" lengthAdjust="spacingAndGlyphs">R</text>
<text class="B" transform="translate(73.75,0)scale(1,.3)" textLength="14" lengthAdjust="spacingAndGlyphs">A</text>
<text class="Y" transform="translate(73.75,-.3)scale(1,.3)" textLength="14" lengthAdjust="spacingAndGlyphs">P</text>
<text class="R" transform="translate(73.75,-.6)scale(1,.3)" textLength="14" lengthAdjust="spacingAndGlyphs">R</text>
<text class="G" transform="translate(73.75,-.9)scale(1,.24)" textLength="14" lengthAdjust="spacingAndGlyphs">S</text>
<text class="M" transform="translate(88.5,0)scale(1,.3)" textLength="14" lengthAdjust="spacingAndGlyphs">E</text>
<text class="B" transform="translate(88.5,-.3)scale(1,.27)" textLength="14" lengthAdjust="spacingAndGlyphs">L</text>
<text class="Y" transform="translate(88.5,-.57)scale(1,.57)" textLength="14" lengthAdjust="spacingAndGlyphs">P</text>
<text class="B" transform="translate(88.5,-1.14)scale(1,.69)" textLength="14" lengthAdjust="spacingAndGlyphs">V</text>
<text class="B" transform="translate(103.25,0)scale(1,.16)" textLength="14" lengthAdjust="spacingAndGlyphs">A</text>
<text class="B" transform="translate(103.25,-.16)scale(1,.49)" textLength="14" lengthAdjust="spacingAndGlyphs">V</text>
<text class="B" transform="translate(103.25,-.65)scale(1,2.53)" textLength="14" lengthAdjust="spacingAndGlyphs">L</text>
<text class="B" transform="translate(118,0)scale(1,.3)" textLength="14" lengthAdjust="spacingAndGlyphs">A</text>
<text class="R" transform="translate(118,-.3)scale(1,.27)" textLength="14" lengthAdjust="spacingAndGlyphs">R</text>
<text class="G" transform="translate(118,-.57)scale(1,.57)" textLength="14" lengthAdjust="spacingAndGlyphs">T</text>
<text class="G" transform="translate(118,-1.22)scale(1,.93)" textLength="14" lengthAdjust="spacingAndGlyphs">S</text>
<text class="G" transform="translate(132.75,0)scale(1,.25)" textLength="14" lengthAdjust="spacingAndGlyphs">S</text>
<text class="B" transform="translate(132.75,-.25)scale(1,.25)" textLength="14" lengthAdjust="spacingAndGlyphs">A</text>
<text class="Y" transform="translate(132.75,-.5)scale(1,.25)" textLength="14" lengthAdjust="spacingAndGlyphs">P</text>
<text class="B" transform="translate(132.75,-.75)scale(1,.25)" textLength="14" lengthAdjust="spacingAndGlyphs">A</text>
<text class="M" transform="translate(147.5,0)scale(1,.15)" textLength="14" lengthAdjust="spacingAndGlyphs">E</text>
<text class="R" transform="translate(147.5,-.15)scale(1,.25)" textLength="14" lengthAdjust="spacingAndGlyphs">R</text>
<text class="B" transform="translate(147.5,-.4)scale(1,.3)" textLength="14" lengthAdjust="spacingAndGlyphs">A</text>
<text class="M" transform="translate(147.5,-.7)scale(1,.28)" textLength="14" lengthAdjust="spacingAndGlyphs">E</text>
<text class="G" transform="translate(147.5,-.98)scale(1,.41)" textLength="14" lengthAdjust="spacingAndGlyphs">S</text>
<text class="B" transform="translate(162.25,0)scale(1,.16)" textLength="14" lengthAdjust="spacingAndGlyphs">A</text>
<text class="M" transform="translate(162.25,-.16)scale(1,.62)" textLength="14" lengthAdjust="spacingAndGlyphs">E</text>
<text class="M" transform="translate(162.25,-.78)scale(1,2.16)" textLength="14" lengthAdjust="spacingAndGlyphs">D</text>
<text class="B" transform="translate(177,0)scale(1,.15)" textLength="14" lengthAdjust="spacingAndGlyphs">V</text>
<text class="G" transform="translate(177,-.15)scale(1,.25)" textLength="14" lengthAdjust="spacingAndGlyphs">S</text>
<text class="B" transform="translate(177,-.4)scale(1,.33)" textLength="14" lengthAdjust="spacingAndGlyphs">L</text>
<text class="B" transform="translate(177,-.73)scale(1,2.37)" textLength="14" lengthAdjust="spacingAndGlyphs">M</text>
<text class="M" transform="translate(191.75,0)scale(1,.15)" textLength="14" lengthAdjust="spacingAndGlyphs">E</text>
<text class="B" transform="translate(191.75,-.15)scale(1,.25)" textLength="14" lengthAdjust="spacingAndGlyphs">L</text>
<text class="G" transform="translate(191.75,-.4)scale(1,.58)" textLength="14" lengthAdjust="spacingAndGlyphs">S</text>
<text class="B" transform="translate(191.75,-.98)scale(1,1.8)" textLength="14" lengthAdjust="spacingAndGlyphs">A</text>
<text class="M" transform="translate(206.5,0)scale(1,.2)" textLength="14" lengthAdjust="spacingAndGlyphs">E</text>
<text class="B" transform="translate(206.5,-.2)scale(1,.29)" textLength="14" lengthAdjust="spacingAndGlyphs">M</text>
<text class="G" transform="translate(206.5,-.49)scale(1,.73)" textLength="14" lengthAdjust="spacingAndGlyphs">S</text>
<text class="B" transform="translate(206.5,-1.3)scale(1,1.31)" textLength="14" lengthAdjust="spacingAndGlyphs">A</text>
<text class="B" transform="translate(221.25,0)scale(1,.3)" textLength="14" lengthAdjust="spacingAndGlyphs">A</text>
<text class="B" transform="translate(221.25,-.3)scale(1,.35)" textLength="14" lengthAdjust="spacingAndGlyphs">I</text>
<text class="B" transform="translate(221.25,-.65)scale(1,2.97)" textLength="14" lengthAdjust="spacingAndGlyphs">L</text>
<text class="G" transform="translate(236,0)scale(1,.25)" textLength="14" lengthAdjust="spacingAndGlyphs">Q</text>
<text class="B" transform="translate(236,-.25)scale(1,.25)" textLength="14" lengthAdjust="spacingAndGlyphs">I</text>
<text class="G" transform="translate(236,-.5)scale(1,.32)" textLength="14" lengthAdjust="spacingAndGlyphs">N</text>
<text class="B" transform="translate(236,-.82)scale(1,.98)" textLength="14" lengthAdjust="spacingAndGlyphs">A</text>
<text class="B" transform="translate(250.75,0)scale(1,.3)" textLength="14" lengthAdjust="spacingAndGlyphs">A</text>
<text class="B" transform="translate(250.75,-.3)scale(1,.3)" textLength="14" lengthAdjust="spacingAndGlyphs">L</text>
<text class="M" transform="translate(250.75,-.6)scale(1,.3)" textLength="14" lengthAdjust="spacingAndGlyphs">E</text>
<text class="B" transform="translate(250.75,-.9)scale(1,.57)" textLength="14" lengthAdjust="spacingAndGlyphs">V</text>
<text class="B" transform="translate(265.5,0)scale(1,.35)" textLength="14" lengthAdjust="spacingAndGlyphs">A</text>
<text class="B" transform="translate(265.5,-.35)scale(1,.25)" textLength="14" lengthAdjust="spacingAndGlyphs">L</text>
<text class="R" transform="translate(265.5,-.6)scale(1,.54)" textLength="14" lengthAdjust="spacingAndGlyphs">R</text>
<text class="R" transform="translate(265.5,-1.14)scale(1,1.23)" textLength="14" lengthAdjust="spacingAndGlyphs">K</text>
<text class="B" transform="translate(280.25,0)scale(1,.2)" textLength="14" lengthAdjust="spacingAndGlyphs">A</text>
<text class="B" transform="translate(280.25,-.2)scale(1,.3)" textLength="14" lengthAdjust="spacingAndGlyphs">L</text>
<text class="B" transform="translate(280.25,-.5)scale(1,.32)" textLength="14" lengthAdjust="spacingAndGlyphs">I</text>
<text class="B" transform="translate(280.25,-.82)scale(1,2.15)" textLength="14" lengthAdjust="spacingAndGlyphs">A</text>
<text class="B" transform="translate(295,0)scale(1,.3)" textLength="14" lengthAdjust="spacingAndGlyphs">A</text>
<text class="G" transform="translate(295,-.3)scale(1,.3)" textLength="14" lengthAdjust="spacingAndGlyphs">T</text>
<text class="G" transform="translate(295,-.6)scale(1,.54)" textLength="14" lengthAdjust="spacingAndGlyphs">N</text>
<text class="G" transform="translate(295,-1.14)scale(1,.82)" textLength="14" lengthAdjust="spacingAndGlyphs">S</text>
<text class="M" transform="translate(309.75,0)scale(1,.35)" textLength="14" lengthAdjust="spacingAndGlyphs">E</text>
<text class="B" transform="translate(309.75,-.35)scale(1,.25)" textLength="14" lengthAdjust="spacingAndGlyphs">C</text>
<text class="B" transform="translate(309.75,-.6)scale(1,.3)" textLength="14" lengthAdjust="spacingAndGlyphs">A</text>
<text class="G" transform="translate(309.75,-.9)scale(1,.49)" textLength="14" lengthAdjust="spacingAndGlyphs">S</text>
<text class="M" transform="translate(324.5,0)scale(1,.15)" textLength="14" lengthAdjust="spacingAndGlyphs">E</text>
<text class="B" transform="translate(324.5,-.15)scale(1,.25)" textLength="14" lengthAdjust="spacingAndGlyphs">V</text>
<text class="B" transform="translate(324.5,-.4)scale(1,.3)" textLength="14" lengthAdjust="spacingAndGlyphs">A</text>
<text class="B" transform="translate(324.5,-.7)scale(1,.36)" textLength="14" lengthAdjust="spacingAndGlyphs">C</text>
<text class="B" transform="translate(324.5,-1.06)scale(1,1.47)" textLength="14" lengthAdjust="spacingAndGlyphs">A</text>
<text class="M" transform="translate(339.25,0)scale(1,.2)" textLength="14" lengthAdjust="spacingAndGlyphs">E</text>
<text class="G" transform="translate(339.25,-.2)scale(1,.3)" textLength="14" lengthAdjust="spacingAndGlyphs">N</text>
<text class="B" transform="translate(339.25,-.5)scale(1,.3)" textLength="14" lengthAdjust="spacingAndGlyphs">A</text>
<text class="B" transform="translate(339.25,-.8)scale(1,.3)" textLength="14" lengthAdjust="spacingAndGlyphs">M</text>
<text class="M" transform="translate(354,0)scale(1,.15)" textLength="14" lengthAdjust="spacingAndGlyphs">E</text>
<text class="R" transform="translate(354,-.15)scale(1,.2)" textLength="14" lengthAdjust="spacingAndGlyphs">R</text>
<text class="B" transform="translate(354,-.35)scale(1,.25)" textLength="14" lengthAdjust="spacingAndGlyphs">A</text>
<text class="G" transform="translate(354,-.6)scale(1,.2)" textLength="14" lengthAdjust="spacingAndGlyphs">S</text>
<text class="R" transform="translate(354,-.8)scale(1,.2)" textLength="14" lengthAdjust="spacingAndGlyphs">K</text>
<text class="M" transform="translate(368.75,0)scale(1,.15)" textLength="14" lengthAdjust="spacingAndGlyphs">E</text>
<text class="R" transform="translate(368.75,-.15)scale(1,.25)" textLength="14" lengthAdjust="spacingAndGlyphs">R</text>
<text class="B" transform="translate(368.75,-.4)scale(1,.25)" textLength="14" lengthAdjust="spacingAndGlyphs">A</text>
<text class="G" transform="translate(368.75,-.65)scale(1,.25)" textLength="14" lengthAdjust="spacingAndGlyphs">S</text>
<text class="R" transform="translate(368.75,-.9)scale(1,.2)" textLength="14" lengthAdjust="spacingAndGlyphs">K</text>
<text class="M" transform="translate(383.5,0)scale(1,.25)" textLength="14" lengthAdjust="spacingAndGlyphs">E</text>
<text class="R" transform="translate(383.5,-.25)scale(1,.25)" textLength="14" lengthAdjust="spacingAndGlyphs">R</text>
<text class="B" transform="translate(383.5,-.5)scale(1,.3)" textLength="14" lengthAdjust="spacingAndGlyphs">A</text>
<text class="G" transform="translate(383.5,-.8)scale(1,.2)" textLength="14" lengthAdjust="spacingAndGlyphs">S</text>
<text class="M" transform="translate(398.25,0)scale(1,.35)" textLength="14" lengthAdjust="spacingAndGlyphs">E</text>
<text class="B" transform="translate(398.25,-.35)scale(1,.25)" textLength="14" lengthAdjust="spacingAndGlyphs">A</text>
<text class="G" transform="translate(398.25,-.6)scale(1,.25)" textLength="14" lengthAdjust="spacingAndGlyphs">S</text>
<text class="R" transform="translate(398.25,-.85)scale(1,.2)" textLength="14" lengthAdjust="spacingAndGlyphs">R</text>
<text class="B" transform="translate(413,0)scale(1,.35)" textLength="14" lengthAdjust="spacingAndGlyphs">A</text>
<text class="G" transform="translate(413,-.35)scale(1,.25)" textLength="14" lengthAdjust="spacingAndGlyphs">S</text>
<text class="R" transform="translate(413,-.6)scale(1,.25)" textLength="14" lengthAdjust="spacingAndGlyphs">R</text>
<text class="R" transform="translate(413,-.85)scale(1,.2)" textLength="14" lengthAdjust="spacingAndGlyphs">K</text>
</g>

<g id="logo6" class="lg" transform="translate(495,513) scale(1,20.4)">
<text class="B" transform="translate(0,0)scale(1,4.3)" textLength="15" lengthAdjust="spacingAndGlyphs">M</text>
<text class="R" transform="translate(15.9,0)scale(1,.08)" textLength="15" lengthAdjust="spacingAndGlyphs">R</text>
<text class="O" transform="translate(15.9,-.08)scale(1,3.92)" textLength="15" lengthAdjust="spacingAndGlyphs">G</text>
<text class="B" transform="translate(31.8,0)scale(1,.2)" textLength="15" lengthAdjust="spacingAndGlyphs">A</text>
<text class="G" transform="translate(31.8,-.2)scale(1,.2)" textLength="15" lengthAdjust="spacingAndGlyphs">T</text>
<text class="G" transform="translate(31.8,-.4)scale(1,.25)" textLength="15" lengthAdjust="spacingAndGlyphs">S</text>
<text class="G" transform="translate(31.8,-.65)scale(1,2.42)" textLength="15" lengthAdjust="spacingAndGlyphs">N</text>
<text class="M" transform="translate(47.7,0)scale(1,.1)" textLength="15" lengthAdjust="spacingAndGlyphs">E</text>
<text class="B" transform="translate(47.7,-.1)scale(1,.25)" textLength="15" lengthAdjust="spacingAndGlyphs">A</text>
<text class="B" transform="translate(47.7,-.35)scale(1,.25)" textLength="15" lengthAdjust="spacingAndGlyphs">L</text>
<text class="T" transform="translate(47.7,-.6)scale(1,.25)" textLength="15" lengthAdjust="spacingAndGlyphs">Y</text>
<text class="B" transform="translate(47.7,-.85)scale(1,.37)" textLength="15" lengthAdjust="spacingAndGlyphs">C</text>
<text class="G" transform="translate(63.6,0)scale(1,.3)" textLength="15" lengthAdjust="spacingAndGlyphs">S</text>
<text class="B" transform="translate(63.6,-.3)scale(1,.25)" textLength="15" lengthAdjust="spacingAndGlyphs">A</text>
<text class="T" transform="translate(63.6,-.55)scale(1,.3)" textLength="15" lengthAdjust="spacingAndGlyphs">Y</text>
<text class="B" transform="translate(63.6,-.85)scale(1,.25)" textLength="15" lengthAdjust="spacingAndGlyphs">L</text>
<text class="M" transform="translate(79.5,0)scale(1,.25)" textLength="15" lengthAdjust="spacingAndGlyphs">E</text>
<text class="G" transform="translate(79.5,-.25)scale(1,.25)" textLength="15" lengthAdjust="spacingAndGlyphs">S</text>
<text class="R" transform="translate(79.5,-.5)scale(1,.25)" textLength="15" lengthAdjust="spacingAndGlyphs">R</text>
<text class="B" transform="translate(79.5,-.75)scale(1,.31)" textLength="15" lengthAdjust="spacingAndGlyphs">A</text>
<text class="G" transform="translate(79.5,-1.06)scale(1,.38)" textLength="15" lengthAdjust="spacingAndGlyphs">S</text>
<text class="M" transform="translate(95.4,0)scale(1,.1)" textLength="15" lengthAdjust="spacingAndGlyphs">E</text>
<text class="G" transform="translate(95.4,-.1)scale(1,.25)" textLength="15" lengthAdjust="spacingAndGlyphs">S</text>
<text class="B" transform="translate(95.4,-.35)scale(1,.25)" textLength="15" lengthAdjust="spacingAndGlyphs">A</text>
<text class="B" transform="translate(95.4,-.6)scale(1,.2)" textLength="15" lengthAdjust="spacingAndGlyphs">C</text>
<text class="B" transform="translate(111.3,0)scale(1,.2)" textLength="15" lengthAdjust="spacingAndGlyphs">A</text>
<text class="G" transform="translate(111.3,-.2)scale(1,.2)" textLength="15" lengthAdjust="spacingAndGlyphs">S</text>
<text class="M" transform="translate(111.3,-.4)scale(1,.1)" textLength="15" lengthAdjust="spacingAndGlyphs">E</text>
<text class="G" transform="translate(127.2,0)scale(1,.15)" textLength="15" lengthAdjust="spacingAndGlyphs">S</text>
<text class="B" transform="translate(127.2,-.15)scale(1,.2)" textLength="15" lengthAdjust="spacingAndGlyphs">A</text>
<text class="B" transform="translate(127.2,-.35)scale(1,.2)" textLength="15" lengthAdjust="spacingAndGlyphs">C</text>
<text class="M" transform="translate(143.1,0)scale(1,.25)" textLength="15" lengthAdjust="spacingAndGlyphs">E</text>
<text class="G" transform="translate(143.1,-.25)scale(1,.2)" textLength="15" lengthAdjust="spacingAndGlyphs">S</text>
<text class="B" transform="translate(143.1,-.45)scale(1,.25)" textLength="15" lengthAdjust="spacingAndGlyphs">A</text>
<text class="B" transform="translate(159,0)scale(1,.2)" textLength="15" lengthAdjust="spacingAndGlyphs">A</text>
<text class="G" transform="translate(159,-.2)scale(1,.2)" textLength="15" lengthAdjust="spacingAndGlyphs">S</text>
</g>

<g id="logo7" class="lg" transform="translate(16,678) scale(1,21.7)">
<text class="M" transform="translate(0,0)scale(1,.1)" textLength="16" lengthAdjust="spacingAndGlyphs">E</text>
<text class="G" transform="translate(0,-.1)scale(1,.2)" textLength="16" lengthAdjust="spacingAndGlyphs">T</text>
<text class="B" transform="translate(0,-.3)scale(1,.2)" textLength="16" lengthAdjust="spacingAndGlyphs">A</text>
<text class="O" transform="translate(0,-.5)scale(1,.2)" textLength="16" lengthAdjust="spacingAndGlyphs">G</text>
<text class="B" transform="translate(16.8,0)scale(1,.3)" textLength="16" lengthAdjust="spacingAndGlyphs">A</text>
<text class="M" transform="translate(16.8,-.3)scale(1,.24)" textLength="16" lengthAdjust="spacingAndGlyphs">E</text>
<text class="G" transform="translate(16.8,-.54)scale(1,.38)" textLength="16" lengthAdjust="spacingAndGlyphs">N</text>
<text class="R" transform="translate(16.8,-.92)scale(1,.38)" textLength="16" lengthAdjust="spacingAndGlyphs">R</text>
<text class="B" transform="translate(33.6,0)scale(1,.15)" textLength="16" lengthAdjust="spacingAndGlyphs">A</text>
<text class="B" transform="translate(33.6,-.15)scale(1,.47)" textLength="16" lengthAdjust="spacingAndGlyphs">V</text>
<text class="B" transform="translate(33.6,-.62)scale(1,2.58)" textLength="16" lengthAdjust="spacingAndGlyphs">L</text>
<text class="B" transform="translate(50.4,0)scale(1,.3)" textLength="16" lengthAdjust="spacingAndGlyphs">A</text>
<text class="B" transform="translate(50.4,-.3)scale(1,.24)" textLength="16" lengthAdjust="spacingAndGlyphs">L</text>
<text class="M" transform="translate(50.4,-.54)scale(1,.46)" textLength="16" lengthAdjust="spacingAndGlyphs">E</text>
<text class="B" transform="translate(50.4,-1)scale(1,1.9)" textLength="16" lengthAdjust="spacingAndGlyphs">C</text>
<text class="M" transform="translate(67.2,0)scale(1,.15)" textLength="16" lengthAdjust="spacingAndGlyphs">E</text>
<text class="G" transform="translate(67.2,-.15)scale(1,.25)" textLength="16" lengthAdjust="spacingAndGlyphs">T</text>
<text class="M" transform="translate(67.2,-.4)scale(1,.45)" textLength="16" lengthAdjust="spacingAndGlyphs">D</text>
<text class="G" transform="translate(67.2,-.85)scale(1,.61)" textLength="16" lengthAdjust="spacingAndGlyphs">S</text>
<text class="G" transform="translate(67.2,-1.54)scale(1,.69)" textLength="16" lengthAdjust="spacingAndGlyphs">N</text>
<text class="B" transform="translate(84,0)scale(1,.3)" textLength="16" lengthAdjust="spacingAndGlyphs">A</text>
<text class="M" transform="translate(84,-.3)scale(1,.55)" textLength="16" lengthAdjust="spacingAndGlyphs">D</text>
<text class="G" transform="translate(84,-.85)scale(1,2.35)" textLength="16" lengthAdjust="spacingAndGlyphs">T</text>
<text class="B" transform="translate(100.8,0)scale(1,.15)" textLength="16" lengthAdjust="spacingAndGlyphs">A</text>
<text class="M" transform="translate(100.8,-.15)scale(1,.25)" textLength="16" lengthAdjust="spacingAndGlyphs">E</text>
<text class="R" transform="translate(100.8,-.4)scale(1,.22)" textLength="16" lengthAdjust="spacingAndGlyphs">R</text>
<text class="Y" transform="translate(100.8,-.62)scale(1,2.48)" textLength="16" lengthAdjust="spacingAndGlyphs">P</text>
<text class="B" transform="translate(117.6,0)scale(1,.2)" textLength="16" lengthAdjust="spacingAndGlyphs">A</text>
<text class="R" transform="translate(117.6,-.2)scale(1,.26)" textLength="16" lengthAdjust="spacingAndGlyphs">K</text>
<text class="G" transform="translate(117.6,-.46)scale(1,.54)" textLength="16" lengthAdjust="spacingAndGlyphs">Q</text>
<text class="M" transform="translate(117.6,-1)scale(1,2)" textLength="16" lengthAdjust="spacingAndGlyphs">E</text>
<text class="B" transform="translate(134.4,0)scale(1,.1)" textLength="16" lengthAdjust="spacingAndGlyphs">A</text>
<text class="B" transform="translate(134.4,-.1)scale(1,.28)" textLength="16" lengthAdjust="spacingAndGlyphs">V</text>
<text class="B" transform="translate(134.4,-.38)scale(1,3.47)" textLength="16" lengthAdjust="spacingAndGlyphs">L</text>
<text class="B" transform="translate(151.2,0)scale(1,.25)" textLength="16" lengthAdjust="spacingAndGlyphs">A</text>
<text class="M" transform="translate(151.2,-.25)scale(1,.3)" textLength="16" lengthAdjust="spacingAndGlyphs">E</text>
<text class="R" transform="translate(151.2,-.55)scale(1,.37)" textLength="16" lengthAdjust="spacingAndGlyphs">R</text>
<text class="R" transform="translate(151.2,-.92)scale(1,.31)" textLength="16" lengthAdjust="spacingAndGlyphs">K</text>
<text class="G" transform="translate(151.2,-1.23)scale(1,.54)" textLength="16" lengthAdjust="spacingAndGlyphs">Q</text>
<text class="M" transform="translate(168,0)scale(1,.3)" textLength="16" lengthAdjust="spacingAndGlyphs">E</text>
<text class="R" transform="translate(168,-.3)scale(1,.3)" textLength="16" lengthAdjust="spacingAndGlyphs">R</text>
<text class="B" transform="translate(168,-.6)scale(1,.32)" textLength="16" lengthAdjust="spacingAndGlyphs">M</text>
<text class="R" transform="translate(168,-.92)scale(1,1.23)" textLength="16" lengthAdjust="spacingAndGlyphs">K</text>
<text class="M" transform="translate(184.8,0)scale(1,.25)" textLength="16" lengthAdjust="spacingAndGlyphs">E</text>
<text class="G" transform="translate(184.8,-.25)scale(1,.3)" textLength="16" lengthAdjust="spacingAndGlyphs">Q</text>
<text class="B" transform="translate(184.8,-.55)scale(1,.45)" textLength="16" lengthAdjust="spacingAndGlyphs">A</text>
<text class="P" transform="translate(184.8,-1)scale(1,.38)" textLength="16" lengthAdjust="spacingAndGlyphs">H</text>
<text class="M" transform="translate(184.8,-1.38)scale(1,.54)" textLength="16" lengthAdjust="spacingAndGlyphs">D</text>
<text class="B" transform="translate(201.6,0)scale(1,.3)" textLength="16" lengthAdjust="spacingAndGlyphs">A</text>
<text class="B" transform="translate(201.6,-.3)scale(1,.32)" textLength="16" lengthAdjust="spacingAndGlyphs">L</text>
<text class="T" transform="translate(201.6,-.62)scale(1,2.78)" textLength="16" lengthAdjust="spacingAndGlyphs">Y</text>
<text class="M" transform="translate(218.4,0)scale(1,.15)" textLength="16" lengthAdjust="spacingAndGlyphs">E</text>
<text class="R" transform="translate(218.4,-.15)scale(1,.25)" textLength="16" lengthAdjust="spacingAndGlyphs">R</text>
<text class="B" transform="translate(218.4,-.4)scale(1,.3)" textLength="16" lengthAdjust="spacingAndGlyphs">M</text>
<text class="B" transform="translate(218.4,-.7)scale(1,.45)" textLength="16" lengthAdjust="spacingAndGlyphs">A</text>
<text class="M" transform="translate(218.4,-1.15)scale(1,.55)" textLength="16" lengthAdjust="spacingAndGlyphs">E</text>
<text class="B" transform="translate(235.2,0)scale(1,.2)" textLength="16" lengthAdjust="spacingAndGlyphs">A</text>
<text class="R" transform="translate(235.2,-.2)scale(1,.26)" textLength="16" lengthAdjust="spacingAndGlyphs">R</text>
<text class="M" transform="translate(235.2,-.46)scale(1,.39)" textLength="16" lengthAdjust="spacingAndGlyphs">E</text>
<text class="G" transform="translate(235.2,-.85)scale(1,1.98)" textLength="16" lengthAdjust="spacingAndGlyphs">Q</text>
<text class="B" transform="translate(252,0)scale(1,.15)" textLength="16" lengthAdjust="spacingAndGlyphs">A</text>
<text class="B" transform="translate(252,-.15)scale(1,.3)" textLength="16" lengthAdjust="spacingAndGlyphs">V</text>
<text class="B" transform="translate(252,-.45)scale(1,2.65)" textLength="16" lengthAdjust="spacingAndGlyphs">L</text>
<text class="M" transform="translate(268.8,0)scale(1,.1)" textLength="16" lengthAdjust="spacingAndGlyphs">E</text>
<text class="B" transform="translate(268.8,-.1)scale(1,.25)" textLength="16" lengthAdjust="spacingAndGlyphs">M</text>
<text class="R" transform="translate(268.8,-.35)scale(1,.27)" textLength="16" lengthAdjust="spacingAndGlyphs">R</text>
<text class="B" transform="translate(268.8,-.62)scale(1,2.38)" textLength="16" lengthAdjust="spacingAndGlyphs">V</text>
<text class="M" transform="translate(285.6,0)scale(1,.1)" textLength="16" lengthAdjust="spacingAndGlyphs">E</text>
<text class="B" transform="translate(285.6,-.1)scale(1,.25)" textLength="16" lengthAdjust="spacingAndGlyphs">A</text>
<text class="B" transform="translate(285.6,-.35)scale(1,.27)" textLength="16" lengthAdjust="spacingAndGlyphs">L</text>
<text class="R" transform="translate(285.6,-.62)scale(1,.38)" textLength="16" lengthAdjust="spacingAndGlyphs">K</text>
<text class="O" transform="translate(285.6,-1)scale(1,.46)" textLength="16" lengthAdjust="spacingAndGlyphs">G</text>
<text class="M" transform="translate(302.4,0)scale(1,.1)" textLength="16" lengthAdjust="spacingAndGlyphs">E</text>
<text class="G" transform="translate(302.4,-.1)scale(1,.2)" textLength="16" lengthAdjust="spacingAndGlyphs">Q</text>
<text class="B" transform="translate(302.4,-.3)scale(1,.25)" textLength="16" lengthAdjust="spacingAndGlyphs">A</text>
<text class="R" transform="translate(302.4,-.55)scale(1,.37)" textLength="16" lengthAdjust="spacingAndGlyphs">K</text>
<text class="G" transform="translate(302.4,-.92)scale(1,.38)" textLength="16" lengthAdjust="spacingAndGlyphs">S</text>
<text class="M" transform="translate(319.2,0)scale(1,.35)" textLength="16" lengthAdjust="spacingAndGlyphs">E</text>
<text class="B" transform="translate(319.2,-.35)scale(1,.35)" textLength="16" lengthAdjust="spacingAndGlyphs">A</text>
<text class="R" transform="translate(319.2,-.7)scale(1,.6)" textLength="16" lengthAdjust="spacingAndGlyphs">K</text>
<text class="R" transform="translate(319.2,-1.3)scale(1,.85)" textLength="16" lengthAdjust="spacingAndGlyphs">R</text>
</g>

<g id="logo8" class="lg" transform="translate(417,683) scale(1,22)">
<text class="B" transform="translate(0,-.05)scale(1,.41)" textLength="16" lengthAdjust="spacingAndGlyphs">L</text>
<text class="B" transform="translate(0,-.46)scale(1,.92)" textLength="16" lengthAdjust="spacingAndGlyphs">I</text>
<text class="B" transform="translate(0,-1.38)scale(1,1.47)" textLength="16" lengthAdjust="spacingAndGlyphs">V</text>
<text class="B" transform="translate(16.6,0)scale(1,.15)" textLength="16" lengthAdjust="spacingAndGlyphs">A</text>
<text class="T" transform="translate(16.6,-.15)scale(1,.31)" textLength="16" lengthAdjust="spacingAndGlyphs">Y</text>
<text class="B" transform="translate(16.6,-.46)scale(1,.84)" textLength="16" lengthAdjust="spacingAndGlyphs">L</text>
<text class="B" transform="translate(16.6,-1.3)scale(1,1.16)" textLength="16" lengthAdjust="spacingAndGlyphs">M</text>
<text class="G" transform="translate(33.2,0)scale(1,.2)" textLength="16" lengthAdjust="spacingAndGlyphs">S</text>
<text class="M" transform="translate(33.2,-.2)scale(1,.2)" textLength="16" lengthAdjust="spacingAndGlyphs">E</text>
<text class="B" transform="translate(33.2,-.4)scale(1,.22)" textLength="16" lengthAdjust="spacingAndGlyphs">A</text>
<text class="R" transform="translate(33.2,-.62)scale(1,.31)" textLength="16" lengthAdjust="spacingAndGlyphs">K</text>
<text class="B" transform="translate(49.8,0)scale(1,.1)" textLength="16" lengthAdjust="spacingAndGlyphs">F</text>
<text class="G" transform="translate(49.8,-.1)scale(1,.25)" textLength="16" lengthAdjust="spacingAndGlyphs">S</text>
<text class="M" transform="translate(49.8,-.35)scale(1,.3)" textLength="16" lengthAdjust="spacingAndGlyphs">E</text>
<text class="M" transform="translate(49.8,-.65)scale(1,.3)" textLength="16" lengthAdjust="spacingAndGlyphs">D</text>
<text class="B" transform="translate(49.8,-.95)scale(1,.25)" textLength="16" lengthAdjust="spacingAndGlyphs">A</text>
<text class="B" transform="translate(66.4,0)scale(1,.15)" textLength="16" lengthAdjust="spacingAndGlyphs">A</text>
<text class="B" transform="translate(66.4,-.15)scale(1,.31)" textLength="16" lengthAdjust="spacingAndGlyphs">F</text>
<text class="P" transform="translate(66.4,-.46)scale(1,.31)" textLength="16" lengthAdjust="spacingAndGlyphs">H</text>
<text class="G" transform="translate(66.4,-.77)scale(1,.77)" textLength="16" lengthAdjust="spacingAndGlyphs">N</text>
<text class="T" transform="translate(66.4,-1.54)scale(1,.61)" textLength="16" lengthAdjust="spacingAndGlyphs">Y</text>
<text class="G" transform="translate(83,0)scale(1,.15)" textLength="16" lengthAdjust="spacingAndGlyphs">S</text>
<text class="G" transform="translate(83,-.15)scale(1,.23)" textLength="16" lengthAdjust="spacingAndGlyphs">T</text>
<text class="Y" transform="translate(83,-.38)scale(1,3.27)" textLength="16" lengthAdjust="spacingAndGlyphs">P</text>
<text class="B" transform="translate(99.6,0)scale(1,.2)" textLength="16" lengthAdjust="spacingAndGlyphs">A</text>
<text class="M" transform="translate(99.6,-.2)scale(1,.25)" textLength="16" lengthAdjust="spacingAndGlyphs">E</text>
<text class="R" transform="translate(99.6,-.45)scale(1,.25)" textLength="16" lengthAdjust="spacingAndGlyphs">K</text>
<text class="G" transform="translate(99.6,-.7)scale(1,.38)" textLength="16" lengthAdjust="spacingAndGlyphs">N</text>
<text class="O" transform="translate(99.6,-1.08)scale(1,.62)" textLength="16" lengthAdjust="spacingAndGlyphs">G</text>
<text class="B" transform="translate(116.2,0)scale(1,.1)" textLength="16" lengthAdjust="spacingAndGlyphs">A</text>
<text class="G" transform="translate(116.2,-.1)scale(1,.2)" textLength="16" lengthAdjust="spacingAndGlyphs">S</text>
<text class="T" transform="translate(116.2,-.3)scale(1,.24)" textLength="16" lengthAdjust="spacingAndGlyphs">Y</text>
<text class="P" transform="translate(116.2,-.54)scale(1,2.63)" textLength="16" lengthAdjust="spacingAndGlyphs">H</text>
<text class="G" transform="translate(132.8,0)scale(1,.25)" textLength="16" lengthAdjust="spacingAndGlyphs">S</text>
<text class="B" transform="translate(132.8,-.25)scale(1,.3)" textLength="16" lengthAdjust="spacingAndGlyphs">A</text>
<text class="T" transform="translate(132.8,-.55)scale(1,.3)" textLength="16" lengthAdjust="spacingAndGlyphs">Y</text>
<text class="B" transform="translate(132.8,-.85)scale(1,.53)" textLength="16" lengthAdjust="spacingAndGlyphs">V</text>
<text class="B" transform="translate(149.4,0)scale(1,.1)" textLength="16" lengthAdjust="spacingAndGlyphs">A</text>
<text class="B" transform="translate(149.4,-.1)scale(1,.52)" textLength="16" lengthAdjust="spacingAndGlyphs">I</text>
<text class="B" transform="translate(149.4,-.62)scale(1,.46)" textLength="16" lengthAdjust="spacingAndGlyphs">L</text>
<text class="B" transform="translate(149.4,-1.08)scale(1,1.77)" textLength="16" lengthAdjust="spacingAndGlyphs">V</text>
<text class="B" transform="translate(166,0)scale(1,.15)" textLength="16" lengthAdjust="spacingAndGlyphs">A</text>
<text class="M" transform="translate(166,-.15)scale(1,.25)" textLength="16" lengthAdjust="spacingAndGlyphs">E</text>
<text class="G" transform="translate(166,-.4)scale(1,.3)" textLength="16" lengthAdjust="spacingAndGlyphs">S</text>
<text class="B" transform="translate(166,-.7)scale(1,.3)" textLength="16" lengthAdjust="spacingAndGlyphs">F</text>
<text class="B" transform="translate(166,-1)scale(1,.25)" textLength="16" lengthAdjust="spacingAndGlyphs">A</text>
<text class="M" transform="translate(182.6,0)scale(1,.25)" textLength="16" lengthAdjust="spacingAndGlyphs">E</text>
<text class="B" transform="translate(182.6,-.25)scale(1,.25)" textLength="16" lengthAdjust="spacingAndGlyphs">A</text>
<text class="R" transform="translate(182.6,-.5)scale(1,.25)" textLength="16" lengthAdjust="spacingAndGlyphs">R</text>
<text class="R" transform="translate(182.6,-.75)scale(1,.25)" textLength="16" lengthAdjust="spacingAndGlyphs">K</text>
<text class="M" transform="translate(199.2,0)scale(1,.2)" textLength="16" lengthAdjust="spacingAndGlyphs">E</text>
<text class="B" transform="translate(199.2,-.2)scale(1,.3)" textLength="16" lengthAdjust="spacingAndGlyphs">V</text>
<text class="G" transform="translate(199.2,-.5)scale(1,.3)" textLength="16" lengthAdjust="spacingAndGlyphs">S</text>
<text class="B" transform="translate(199.2,-.8)scale(1,.28)" textLength="16" lengthAdjust="spacingAndGlyphs">A</text>
<text class="Y" transform="translate(199.2,-1.08)scale(1,.22)" textLength="16" lengthAdjust="spacingAndGlyphs">P</text>
<text class="M" transform="translate(215.8,0)scale(1,.1)" textLength="16" lengthAdjust="spacingAndGlyphs">E</text>
<text class="B" transform="translate(215.8,-.1)scale(1,.15)" textLength="16" lengthAdjust="spacingAndGlyphs">A</text>
<text class="G" transform="translate(232.4,0)scale(1,.25)" textLength="16" lengthAdjust="spacingAndGlyphs">S</text>
<text class="M" transform="translate(232.4,-.25)scale(1,.3)" textLength="16" lengthAdjust="spacingAndGlyphs">E</text>
<text class="B" transform="translate(232.4,-.55)scale(1,.3)" textLength="16" lengthAdjust="spacingAndGlyphs">A</text>
<text class="G" transform="translate(232.4,-.85)scale(1,.25)" textLength="16" lengthAdjust="spacingAndGlyphs">S</text>
</g>

<g id="logo9" class="lg" transform="translate(16,846) scale(1,20.2)">
<text class="B" transform="translate(0,0)scale(1,.3)" textLength="14" lengthAdjust="spacingAndGlyphs">A</text>
<text class="G" transform="translate(0,-.3)scale(1,.3)" textLength="14" lengthAdjust="spacingAndGlyphs">T</text>
<text class="G" transform="translate(0,-.6)scale(1,.34)" textLength="14" lengthAdjust="spacingAndGlyphs">N</text>
<text class="O" transform="translate(0,-.94)scale(1,.25)" textLength="14" lengthAdjust="spacingAndGlyphs">G</text>
<text class="M" transform="translate(0,-1.19)scale(1,.45)" textLength="14" lengthAdjust="spacingAndGlyphs">D</text>
<text class="G" transform="translate(14.6,0)scale(1,.1)" textLength="14" lengthAdjust="spacingAndGlyphs">S</text>
<text class="M" transform="translate(14.6,-.1)scale(1,.25)" textLength="14" lengthAdjust="spacingAndGlyphs">E</text>
<text class="B" transform="translate(14.6,-.35)scale(1,.25)" textLength="14" lengthAdjust="spacingAndGlyphs">A</text>
<text class="B" transform="translate(14.6,-.6)scale(1,.34)" textLength="14" lengthAdjust="spacingAndGlyphs">X</text>
<text class="O" transform="translate(14.6,-.94)scale(1,.58)" textLength="14" lengthAdjust="spacingAndGlyphs">G</text>
<text class="M" transform="translate(29.2,0)scale(1,.3)" textLength="14" lengthAdjust="spacingAndGlyphs">E</text>
<text class="B" transform="translate(29.2,-.3)scale(1,.3)" textLength="14" lengthAdjust="spacingAndGlyphs">A</text>
<text class="B" transform="translate(29.2,-.6)scale(1,.34)" textLength="14" lengthAdjust="spacingAndGlyphs">V</text>
<text class="O" transform="translate(29.2,-.94)scale(1,.33)" textLength="14" lengthAdjust="spacingAndGlyphs">G</text>
<text class="M" transform="translate(43.8,0)scale(1,.15)" textLength="14" lengthAdjust="spacingAndGlyphs">E</text>
<text class="B" transform="translate(43.8,-.15)scale(1,.3)" textLength="14" lengthAdjust="spacingAndGlyphs">A</text>
<text class="B" transform="translate(43.8,-.45)scale(1,.33)" textLength="14" lengthAdjust="spacingAndGlyphs">W</text>
<text class="B" transform="translate(43.8,-.78)scale(1,.41)" textLength="14" lengthAdjust="spacingAndGlyphs">V</text>
<text class="O" transform="translate(43.8,-1.19)scale(1,.5)" textLength="14" lengthAdjust="spacingAndGlyphs">G</text>
<text class="B" transform="translate(58.4,0)scale(1,.38)" textLength="14" lengthAdjust="spacingAndGlyphs">A</text>
<text class="O" transform="translate(58.4,-.38)scale(1,.4)" textLength="14" lengthAdjust="spacingAndGlyphs">G</text>
<text class="R" transform="translate(58.4,-.78)scale(1,.49)" textLength="14" lengthAdjust="spacingAndGlyphs">K</text>
<text class="R" transform="translate(58.4,-1.27)scale(1,.91)" textLength="14" lengthAdjust="spacingAndGlyphs">R</text>
<text class="B" transform="translate(73,0)scale(1,.15)" textLength="14" lengthAdjust="spacingAndGlyphs">A</text>
<text class="B" transform="translate(73,-.15)scale(1,.3)" textLength="14" lengthAdjust="spacingAndGlyphs">I</text>
<text class="B" transform="translate(73,-.45)scale(1,1.15)" textLength="14" lengthAdjust="spacingAndGlyphs">L</text>
<text class="B" transform="translate(73,-1.64)scale(1,.66)" textLength="14" lengthAdjust="spacingAndGlyphs">V</text>
<text class="B" transform="translate(87.6,0)scale(1,.1)" textLength="14" lengthAdjust="spacingAndGlyphs">A</text>
<text class="B" transform="translate(87.6,-.1)scale(1,.35)" textLength="14" lengthAdjust="spacingAndGlyphs">L</text>
<text class="R" transform="translate(87.6,-.45)scale(1,1.15)" textLength="14" lengthAdjust="spacingAndGlyphs">R</text>
<text class="R" transform="translate(87.6,-1.69)scale(1,1.07)" textLength="14" lengthAdjust="spacingAndGlyphs">K</text>
<text class="B" transform="translate(102.2,0)scale(1,.1)" textLength="14" lengthAdjust="spacingAndGlyphs">A</text>
<text class="B" transform="translate(102.2,-.1)scale(1,.25)" textLength="14" lengthAdjust="spacingAndGlyphs">V</text>
<text class="B" transform="translate(102.2,-.35)scale(1,.45)" textLength="14" lengthAdjust="spacingAndGlyphs">M</text>
<text class="B" transform="translate(102.2,-.8)scale(1,.56)" textLength="14" lengthAdjust="spacingAndGlyphs">L</text>
<text class="B" transform="translate(102.2,-1.36)scale(1,.9)" textLength="14" lengthAdjust="spacingAndGlyphs">I</text>
<text class="B" transform="translate(116.8,0)scale(1,.1)" textLength="14" lengthAdjust="spacingAndGlyphs">A</text>
<text class="R" transform="translate(116.8,-.1)scale(1,.35)" textLength="14" lengthAdjust="spacingAndGlyphs">K</text>
<text class="B" transform="translate(116.8,-.45)scale(1,.91)" textLength="14" lengthAdjust="spacingAndGlyphs">V</text>
<text class="R" transform="translate(116.8,-1.44)scale(1,1.36)" textLength="14" lengthAdjust="spacingAndGlyphs">R</text>
<text class="B" transform="translate(131.4,0)scale(1,.28)" textLength="14" lengthAdjust="spacingAndGlyphs">M</text>
<text class="B" transform="translate(131.4,-.28)scale(1,.58)" textLength="14" lengthAdjust="spacingAndGlyphs">L</text>
<text class="B" transform="translate(131.4,-.86)scale(1,.74)" textLength="14" lengthAdjust="spacingAndGlyphs">V</text>
<text class="B" transform="translate(131.4,-1.6)scale(1,.86)" textLength="14" lengthAdjust="spacingAndGlyphs">I</text>
<text class="M" transform="translate(146,0)scale(1,.3)" textLength="14" lengthAdjust="spacingAndGlyphs">E</text>
<text class="G" transform="translate(146,-.3)scale(1,.3)" textLength="14" lengthAdjust="spacingAndGlyphs">T</text>
<text class="B" transform="translate(146,-.6)scale(1,.3)" textLength="14" lengthAdjust="spacingAndGlyphs">C</text>
<text class="Y" transform="translate(146,-.9)scale(1,.25)" textLength="14" lengthAdjust="spacingAndGlyphs">P</text>
<text class="G" transform="translate(146,-1.15)scale(1,.32)" textLength="14" lengthAdjust="spacingAndGlyphs">S</text>
<text class="M" transform="translate(160.6,0)scale(1,.2)" textLength="14" lengthAdjust="spacingAndGlyphs">E</text>
<text class="B" transform="translate(160.6,-.2)scale(1,.25)" textLength="14" lengthAdjust="spacingAndGlyphs">A</text>
<text class="R" transform="translate(160.6,-.45)scale(1,.91)" textLength="14" lengthAdjust="spacingAndGlyphs">K</text>
<text class="Y" transform="translate(160.6,-1.36)scale(1,.69)" textLength="14" lengthAdjust="spacingAndGlyphs">P</text>
<text class="M" transform="translate(175.2,0)scale(1,.25)" textLength="14" lengthAdjust="spacingAndGlyphs">E</text>
<text class="R" transform="translate(175.2,-.25)scale(1,.3)" textLength="14" lengthAdjust="spacingAndGlyphs">K</text>
<text class="G" transform="translate(175.2,-.55)scale(1,.27)" textLength="14" lengthAdjust="spacingAndGlyphs">Q</text>
<text class="B" transform="translate(175.2,-.82)scale(1,.37)" textLength="14" lengthAdjust="spacingAndGlyphs">A</text>
<text class="M" transform="translate(175.2,-1.19)scale(1,.83)" textLength="14" lengthAdjust="spacingAndGlyphs">E</text>
<text class="B" transform="translate(189.8,0)scale(1,.3)" textLength="14" lengthAdjust="spacingAndGlyphs">A</text>
<text class="M" transform="translate(189.8,-.3)scale(1,.31)" textLength="14" lengthAdjust="spacingAndGlyphs">E</text>
<text class="B" transform="translate(189.8,-.61)scale(1,.99)" textLength="14" lengthAdjust="spacingAndGlyphs">F</text>
<text class="G" transform="translate(189.8,-1.6)scale(1,.83)" textLength="14" lengthAdjust="spacingAndGlyphs">Q</text>
<text class="B" transform="translate(204.4,0)scale(1,.1)" textLength="14" lengthAdjust="spacingAndGlyphs">A</text>
<text class="B" transform="translate(204.4,-.1)scale(1,.68)" textLength="14" lengthAdjust="spacingAndGlyphs">V</text>
<text class="B" transform="translate(204.4,-.78)scale(1,.79)" textLength="14" lengthAdjust="spacingAndGlyphs">I</text>
<text class="B" transform="translate(204.4,-1.57)scale(1,1.03)" textLength="14" lengthAdjust="spacingAndGlyphs">L</text>
<text class="B" transform="translate(219,0)scale(1,.2)" textLength="14" lengthAdjust="spacingAndGlyphs">A</text>
<text class="G" transform="translate(219,-.2)scale(1,.3)" textLength="14" lengthAdjust="spacingAndGlyphs">S</text>
<text class="M" transform="translate(219,-.5)scale(1,.25)" textLength="14" lengthAdjust="spacingAndGlyphs">E</text>
<text class="B" transform="translate(219,-.75)scale(1,.27)" textLength="14" lengthAdjust="spacingAndGlyphs">A</text>
<text class="G" transform="translate(219,-1.02)scale(1,.34)" textLength="14" lengthAdjust="spacingAndGlyphs">T</text>
<text class="B" transform="translate(233.6,0)scale(1,.3)" textLength="14" lengthAdjust="spacingAndGlyphs">A</text>
<text class="G" transform="translate(233.6,-.3)scale(1,.3)" textLength="14" lengthAdjust="spacingAndGlyphs">S</text>
<text class="R" transform="translate(233.6,-.6)scale(1,.26)" textLength="14" lengthAdjust="spacingAndGlyphs">R</text>
<text class="M" transform="translate(233.6,-.86)scale(1,.33)" textLength="14" lengthAdjust="spacingAndGlyphs">E</text>
<text class="R" transform="translate(233.6,-1.19)scale(1,.91)" textLength="14" lengthAdjust="spacingAndGlyphs">K</text>
<text class="B" transform="translate(248.2,0)scale(1,.15)" textLength="14" lengthAdjust="spacingAndGlyphs">A</text>
<text class="T" transform="translate(248.2,-.15)scale(1,.25)" textLength="14" lengthAdjust="spacingAndGlyphs">Y</text>
<text class="B" transform="translate(248.2,-.4)scale(1,.46)" textLength="14" lengthAdjust="spacingAndGlyphs">F</text>
<text class="B" transform="translate(248.2,-.86)scale(1,1.82)" textLength="14" lengthAdjust="spacingAndGlyphs">L</text>
<text class="B" transform="translate(262.8,0)scale(1,.15)" textLength="14" lengthAdjust="spacingAndGlyphs">A</text>
<text class="T" transform="translate(262.8,-.15)scale(1,.3)" textLength="14" lengthAdjust="spacingAndGlyphs">Y</text>
<text class="B" transform="translate(262.8,-.45)scale(1,.99)" textLength="14" lengthAdjust="spacingAndGlyphs">L</text>
<text class="B" transform="translate(262.8,-1.44)scale(1,1.06)" textLength="14" lengthAdjust="spacingAndGlyphs">M</text>
<text class="M" transform="translate(277.4,0)scale(1,.2)" textLength="14" lengthAdjust="spacingAndGlyphs">E</text>
<text class="R" transform="translate(277.4,-.2)scale(1,.25)" textLength="14" lengthAdjust="spacingAndGlyphs">K</text>
<text class="B" transform="translate(277.4,-.45)scale(1,.3)" textLength="14" lengthAdjust="spacingAndGlyphs">A</text>
<text class="G" transform="translate(277.4,-.75)scale(1,.27)" textLength="14" lengthAdjust="spacingAndGlyphs">S</text>
<text class="M" transform="translate(277.4,-1.02)scale(1,.35)" textLength="14" lengthAdjust="spacingAndGlyphs">E</text>
<text class="B" transform="translate(292,0)scale(1,.2)" textLength="14" lengthAdjust="spacingAndGlyphs">A</text>
<text class="R" transform="translate(292,-.2)scale(1,.25)" textLength="14" lengthAdjust="spacingAndGlyphs">K</text>
<text class="G" transform="translate(292,-.45)scale(1,.3)" textLength="14" lengthAdjust="spacingAndGlyphs">S</text>
<text class="M" transform="translate(292,-.75)scale(1,.3)" textLength="14" lengthAdjust="spacingAndGlyphs">D</text>
<text class="M" transform="translate(292,-1.05)scale(1,.35)" textLength="14" lengthAdjust="spacingAndGlyphs">E</text>
</g>

<g id="logo10" class="lg" transform="translate(353,846) scale(1,20.2)">
<text class="B" transform="translate(0,0)scale(1,.2)" textLength="14.5" lengthAdjust="spacingAndGlyphs">A</text>
<text class="M" transform="translate(0,-.2)scale(1,.3)" textLength="14.5" lengthAdjust="spacingAndGlyphs">E</text>
<text class="G" transform="translate(0,-.5)scale(1,.36)" textLength="14.5" lengthAdjust="spacingAndGlyphs">Q</text>
<text class="P" transform="translate(0,-.86)scale(1,1.74)" textLength="14.5" lengthAdjust="spacingAndGlyphs">H</text>
<text class="B" transform="translate(15.5,0)scale(1,.15)" textLength="14.5" lengthAdjust="spacingAndGlyphs">A</text>
<text class="G" transform="translate(15.5,-.15)scale(1,.25)" textLength="14.5" lengthAdjust="spacingAndGlyphs">S</text>
<text class="B" transform="translate(15.5,-.4)scale(1,.46)" textLength="14.5" lengthAdjust="spacingAndGlyphs">L</text>
<text class="B" transform="translate(15.5,-.86)scale(1,2.4)" textLength="14.5" lengthAdjust="spacingAndGlyphs">F</text>
<text class="B" transform="translate(31,-.03)scale(1,4.09)" textLength="14.5" lengthAdjust="spacingAndGlyphs">F</text>
<text class="B" transform="translate(46.5,0)scale(1,.1)" textLength="14.5" lengthAdjust="spacingAndGlyphs">A</text>
<text class="M" transform="translate(46.5,-.1)scale(1,.25)" textLength="14.5" lengthAdjust="spacingAndGlyphs">E</text>
<text class="R" transform="translate(46.5,-.35)scale(1,.25)" textLength="14.5" lengthAdjust="spacingAndGlyphs">R</text>
<text class="P" transform="translate(46.5,-.6)scale(1,.5)" textLength="14.5" lengthAdjust="spacingAndGlyphs">H</text>
<text class="G" transform="translate(46.5,-1.1)scale(1,1.7)" textLength="14.5" lengthAdjust="spacingAndGlyphs">Q</text>
<text class="B" transform="translate(62,0)scale(1,.28)" textLength="14.5" lengthAdjust="spacingAndGlyphs">A</text>
<text class="G" transform="translate(62,-.28)scale(1,3.5)" textLength="14.5" lengthAdjust="spacingAndGlyphs">S</text>
<text class="B" transform="translate(77.5,0)scale(1,.2)" textLength="14.5" lengthAdjust="spacingAndGlyphs">A</text>
<text class="G" transform="translate(77.5,-.2)scale(1,.3)" textLength="14.5" lengthAdjust="spacingAndGlyphs">S</text>
<text class="M" transform="translate(77.5,-.5)scale(1,.36)" textLength="14.5" lengthAdjust="spacingAndGlyphs">E</text>
<text class="B" transform="translate(77.5,-.86)scale(1,.33)" textLength="14.5" lengthAdjust="spacingAndGlyphs">V</text>
<text class="Y" transform="translate(77.5,-1.19)scale(1,.99)" textLength="14.5" lengthAdjust="spacingAndGlyphs">P</text>
<text class="B" transform="translate(93,0)scale(1,.3)" textLength="14.5" lengthAdjust="spacingAndGlyphs">A</text>
<text class="B" transform="translate(93,-.3)scale(1,.56)" textLength="14.5" lengthAdjust="spacingAndGlyphs">I</text>
<text class="B" transform="translate(93,-.86)scale(1,2.92)" textLength="14.5" lengthAdjust="spacingAndGlyphs">L</text>
<text class="B" transform="translate(108.5,0)scale(1,.3)" textLength="14.5" lengthAdjust="spacingAndGlyphs">A</text>
<text class="B" transform="translate(108.5,-.3)scale(1,.48)" textLength="14.5" lengthAdjust="spacingAndGlyphs">L</text>
<text class="G" transform="translate(108.5,-.78)scale(1,.74)" textLength="14.5" lengthAdjust="spacingAndGlyphs">T</text>
<text class="G" transform="translate(108.5,-1.52)scale(1,1.88)" textLength="14.5" lengthAdjust="spacingAndGlyphs">S</text>
<text class="B" transform="translate(124,0)scale(1,.2)" textLength="14.5" lengthAdjust="spacingAndGlyphs">A</text>
<text class="G" transform="translate(124,-.2)scale(1,.33)" textLength="14.5" lengthAdjust="spacingAndGlyphs">S</text>
<text class="B" transform="translate(124,-.53)scale(1,.83)" textLength="14.5" lengthAdjust="spacingAndGlyphs">F</text>
<text class="B" transform="translate(124,-1.36)scale(1,1.86)" textLength="14.5" lengthAdjust="spacingAndGlyphs">L</text>
<text class="G" transform="translate(139.5,0)scale(1,.15)" textLength="14.5" lengthAdjust="spacingAndGlyphs">S</text>
<text class="B" transform="translate(139.5,-.15)scale(1,.3)" textLength="14.5" lengthAdjust="spacingAndGlyphs">A</text>
<text class="B" transform="translate(139.5,-.45)scale(1,1.32)" textLength="14.5" lengthAdjust="spacingAndGlyphs">L</text>
<text class="B" transform="translate(139.5,-1.77)scale(1,1.32)" textLength="14.5" lengthAdjust="spacingAndGlyphs">V</text>
<text class="B" transform="translate(155,0)scale(1,.15)" textLength="14.5" lengthAdjust="spacingAndGlyphs">L</text>
<text class="B" transform="translate(155,-.15)scale(1,.3)" textLength="14.5" lengthAdjust="spacingAndGlyphs">A</text>
<text class="G" transform="translate(155,-.45)scale(1,.57)" textLength="14.5" lengthAdjust="spacingAndGlyphs">T</text>
<text class="G" transform="translate(155,-1.02)scale(1,1.74)" textLength="14.5" lengthAdjust="spacingAndGlyphs">S</text>
<text class="B" transform="translate(170.5,0)scale(1,.2)" textLength="14.5" lengthAdjust="spacingAndGlyphs">A</text>
<text class="B" transform="translate(170.5,-.2)scale(1,1.16)" textLength="14.5" lengthAdjust="spacingAndGlyphs">I</text>
<text class="B" transform="translate(170.5,-1.36)scale(1,1.9)" textLength="14.5" lengthAdjust="spacingAndGlyphs">L</text>
<text class="G" transform="translate(186,0)scale(1,.28)" textLength="14.5" lengthAdjust="spacingAndGlyphs">S</text>
<text class="B" transform="translate(186,-.28)scale(1,3.72)" textLength="14.5" lengthAdjust="spacingAndGlyphs">A</text>
<text class="B" transform="translate(201.5,0)scale(1,.28)" textLength="14.5" lengthAdjust="spacingAndGlyphs">A</text>
<text class="G" transform="translate(201.5,-.28)scale(1,3.59)" textLength="14.5" lengthAdjust="spacingAndGlyphs">S</text>
<text class="B" transform="translate(217,0)scale(1,.28)" textLength="14.5" lengthAdjust="spacingAndGlyphs">A</text>
<text class="G" transform="translate(217,-.28)scale(1,.32)" textLength="14.5" lengthAdjust="spacingAndGlyphs">S</text>
<text class="B" transform="translate(217,-.6)scale(1,.84)" textLength="14.5" lengthAdjust="spacingAndGlyphs">F</text>
<text class="B" transform="translate(217,-1.44)scale(1,1.36)" textLength="14.5" lengthAdjust="spacingAndGlyphs">L</text>
<text class="G" transform="translate(232.5,0)scale(1,.15)" textLength="14.5" lengthAdjust="spacingAndGlyphs">S</text>
<text class="B" transform="translate(232.5,-.15)scale(1,.25)" textLength="14.5" lengthAdjust="spacingAndGlyphs">A</text>
<text class="B" transform="translate(232.5,-.4)scale(1,.3)" textLength="14.5" lengthAdjust="spacingAndGlyphs">L</text>
<text class="B" transform="translate(232.5,-.7)scale(1,2.1)" textLength="14.5" lengthAdjust="spacingAndGlyphs">I</text>
<text class="B" transform="translate(248,0)scale(1,.15)" textLength="14.5" lengthAdjust="spacingAndGlyphs">A</text>
<text class="B" transform="translate(248,-.15)scale(1,.3)" textLength="14.5" lengthAdjust="spacingAndGlyphs">L</text>
<text class="G" transform="translate(248,-.45)scale(1,2.81)" textLength="14.5" lengthAdjust="spacingAndGlyphs">S</text>
<text class="M" transform="translate(263.5,0)scale(1,.15)" textLength="14.5" lengthAdjust="spacingAndGlyphs">E</text>
<text class="B" transform="translate(263.5,-.15)scale(1,.3)" textLength="14.5" lengthAdjust="spacingAndGlyphs">A</text>
<text class="B" transform="translate(263.5,-.45)scale(1,.33)" textLength="14.5" lengthAdjust="spacingAndGlyphs">L</text>
<text class="G" transform="translate(263.5,-.78)scale(1,.32)" textLength="14.5" lengthAdjust="spacingAndGlyphs">S</text>
<text class="Y" transform="translate(263.5,-1.1)scale(1,.87)" textLength="14.5" lengthAdjust="spacingAndGlyphs">P</text>
<text class="M" transform="translate(279,0)scale(1,.15)" textLength="14.5" lengthAdjust="spacingAndGlyphs">E</text>
<text class="B" transform="translate(279,-.15)scale(1,.3)" textLength="14.5" lengthAdjust="spacingAndGlyphs">A</text>
<text class="G" transform="translate(279,-.45)scale(1,.25)" textLength="14.5" lengthAdjust="spacingAndGlyphs">Q</text>
<text class="B" transform="translate(279,-.7)scale(1,.32)" textLength="14.5" lengthAdjust="spacingAndGlyphs">L</text>
<text class="Y" transform="translate(279,-1.02)scale(1,.91)" textLength="14.5" lengthAdjust="spacingAndGlyphs">P</text>
<text class="M" transform="translate(294.5,0)scale(1,.2)" textLength="14.5" lengthAdjust="spacingAndGlyphs">E</text>
<text class="B" transform="translate(294.5,-.2)scale(1,.3)" textLength="14.5" lengthAdjust="spacingAndGlyphs">A</text>
<text class="B" transform="translate(294.5,-.5)scale(1,.28)" textLength="14.5" lengthAdjust="spacingAndGlyphs">L</text>
<text class="G" transform="translate(294.5,-.78)scale(1,.32)" textLength="14.5" lengthAdjust="spacingAndGlyphs">S</text>
<text class="Y" transform="translate(294.5,-1.1)scale(1,.67)" textLength="14.5" lengthAdjust="spacingAndGlyphs">P</text>
<text class="B" transform="translate(310,0)scale(1,.3)" textLength="14.5" lengthAdjust="spacingAndGlyphs">A</text>
<text class="G" transform="translate(310,-.3)scale(1,.3)" textLength="14.5" lengthAdjust="spacingAndGlyphs">T</text>
<text class="G" transform="translate(310,-.6)scale(1,.34)" textLength="14.5" lengthAdjust="spacingAndGlyphs">S</text>
<text class="Y" transform="translate(310,-.94)scale(1,.91)" textLength="14.5" lengthAdjust="spacingAndGlyphs">P</text>
</g>
</g>

<g id="panelB">
<text class="big" x="714" y="35" textLength="32" lengthAdjust="spacingAndGlyphs">B</text>

<g id="group-labels">
<rect x="744.5" y="85" width="3.5" height="108"/>
<rect x="744.5" y="202" width="3.5" height="201"/>
<rect x="744" y="417" width="3.5" height="380"/>
<text class="grp" transform="translate(741,142) rotate(-90)">Group <tspan class="ser">I</tspan></text>
<text class="grp" transform="translate(741,277) rotate(-90)" textLength="124" lengthAdjust="spacing">Group <tspan class="ser">II</tspan></text>
<text class="grp" transform="translate(741,585) rotate(-90)" textLength="130" lengthAdjust="spacing">Group <tspan class="ser">III</tspan></text>
</g>

<g id="AT1G18290">
<text class="lab" x="761" y="105" textLength="109" lengthAdjust="spacingAndGlyphs">AT1G18290</text>
<path class="ln" d="M873,98H1570"/>
<rect class="m6" x="877" y="92.5" width="45" height="11"/><rect class="m4" x="976" y="92.5" width="61" height="11"/><rect x="1062" y="92.5" width="79" height="11" fill="#ffcc00"/><rect class="m1" x="1179" y="92.5" width="44" height="11"/><rect class="m5" x="1246" y="92.5" width="117" height="11"/><rect class="m3" x="1526" y="92.5" width="33" height="11"/>
<text class="nm" x="892" y="107">6</text><text class="nm" x="1003" y="106">4</text><text class="nm" x="1090" y="107">2</text><text class="nm" x="1202" y="104">1</text><text class="nm" x="1300" y="107">5</text><text class="nm" x="1542" y="106">3</text>
</g>
<g id="AT4G02090">
<text class="lab" x="761" y="135" textLength="109" lengthAdjust="spacingAndGlyphs">AT4G02090</text>
<path class="ln" d="M873,128H1673"/>
<rect class="m6" x="877" y="122.5" width="45" height="11"/><rect class="m4" x="984" y="122.5" width="61" height="11"/><rect class="m8" x="1064" y="122.5" width="60" height="11"/><rect class="m1" x="1218" y="122.5" width="45" height="11"/><rect class="m5" x="1305" y="122.5" width="117" height="11"/><rect class="m3" x="1589" y="122.5" width="33" height="11"/>
<text class="nm" x="892" y="136">6</text><text class="nm" x="1010" y="135">4</text><text class="nm" x="1090" y="137">8</text><text class="nm" x="1240" y="138">1</text><text class="nm" x="1360" y="138">5</text><text class="nm" x="1606" y="138">3</text>
</g>
<g id="AT5G17350">
<text class="lab" x="761" y="160" textLength="109" lengthAdjust="spacingAndGlyphs">AT5G17350</text>
<path class="ln" d="M873,153H1597"/>
<rect class="m6" x="877" y="147.5" width="45" height="11"/><rect class="m4" x="981" y="147.5" width="60" height="11"/><rect x="1058" y="147.5" width="80" height="11" fill="#ffcc66"/><rect class="m1" x="1186" y="147.5" width="45" height="11"/><rect class="m5" x="1257" y="147.5" width="117" height="11"/><rect class="m3" x="1546" y="147.5" width="33" height="11"/>
<text class="nm" x="892" y="159">6</text><text class="nm" x="1010" y="160">4</text><text class="nm" x="1092" y="160">2</text><text class="nm" x="1213" y="163">1</text><text class="nm" x="1307" y="161">5</text><text class="nm" x="1562" y="161">3</text>
</g>
<g id="AT3G03280">
<text class="lab" x="761" y="189" textLength="109" lengthAdjust="spacingAndGlyphs">AT3G03280</text>
<path class="ln" d="M873,182H1531" stroke-width="4"/>
<rect class="m6" x="877" y="176.5" width="45" height="11"/><rect class="m4" x="968" y="176.5" width="62" height="11"/><rect x="1047" y="176.5" width="85" height="11" fill="#ffcc66"/><rect class="m1" x="1175" y="176.5" width="44" height="11"/><rect class="m5" x="1271" y="176.5" width="116" height="11"/><rect class="m3" x="1486" y="176.5" width="33" height="11"/>
<text class="nm" x="892" y="188">6</text><text class="nm" x="994" y="190">4</text><text class="nm" x="1086" y="184">2</text><text class="nm" x="1196" y="190">1</text><text class="nm" x="1324" y="189">5</text><text class="nm" x="1503" y="190">3</text>
</g>
<g id="AT1G21010">
<text class="lab" x="761" y="218" textLength="109" lengthAdjust="spacingAndGlyphs">AT1G21010</text>
<path class="ln" d="M873,211H1673"/>
<rect class="m6" x="877" y="205.5" width="45" height="11"/><rect class="m4" x="981" y="205.5" width="60" height="11"/><rect class="m2" x="1103" y="205.5" width="85" height="11"/><rect class="m1" x="1242" y="205.5" width="45" height="11"/><rect class="m5" x="1298" y="205.5" width="116" height="11"/><rect class="m3" x="1613" y="205.5" width="33" height="11"/>
<text class="nm" x="892" y="219">6</text><text class="nm" x="1007" y="216">4</text><text class="nm" x="1146" y="220">2</text><text class="nm" x="1260" y="221">1</text><text class="nm" x="1352" y="221">5</text><text class="nm" x="1630" y="221">3</text>
</g>
<g id="AT1G76660">
<text class="lab" x="761" y="244" textLength="109" lengthAdjust="spacingAndGlyphs">AT1G76660</text>
<path class="ln" d="M873,237H1728"/>
<rect class="m6" x="877" y="231.5" width="45" height="11"/><rect class="m4" x="984" y="231.5" width="61" height="11"/><rect class="m2" x="1088" y="231.5" width="84" height="11"/><rect class="m1" x="1222" y="231.5" width="45" height="11"/><rect class="m5" x="1290" y="231.5" width="116" height="11"/><rect class="m3" x="1641" y="231.5" width="33" height="11"/>
<text class="nm" x="892" y="245">6</text><text class="nm" x="1011" y="242">4</text><text class="nm" x="1125" y="246">2</text><text class="nm" x="1244" y="247">1</text><text class="nm" x="1340" y="247">5</text><text class="nm" x="1658" y="247">3</text>
</g>
<g id="AT3G50800">
<text class="lab" x="761" y="269" textLength="109" lengthAdjust="spacingAndGlyphs">AT3G50800</text>
<path class="ln" d="M873,262H1475"/>
<rect class="m6" x="877" y="256.5" width="45" height="11"/><rect class="m4" x="960" y="256.5" width="61" height="11"/><rect class="m2" x="1042" y="256.5" width="80" height="11"/><rect class="m1" x="1175" y="256.5" width="44" height="11"/><rect class="m5" x="1238" y="256.5" width="116" height="11"/>
<text class="nm" x="892" y="266">6</text><text class="nm" x="986" y="266">4</text><text class="nm" x="1081" y="268">2</text><text class="nm" x="1196" y="270">1</text><text class="nm" x="1293" y="268">5</text>
</g>
<g id="AT5G66580">
<text class="lab" x="761" y="293" textLength="109" lengthAdjust="spacingAndGlyphs">AT5G66580</text>
<path class="ln" d="M873,286H1491"/>
<rect class="m6" x="877" y="280.5" width="45" height="11"/><rect class="m4" x="960" y="280.5" width="61" height="11"/><rect class="m2" x="1044" y="280.5" width="84" height="11"/><rect class="m1" x="1175" y="280.5" width="44" height="11"/><rect class="m5" x="1238" y="280.5" width="116" height="11"/><rect class="m3" x="1442" y="280.5" width="33" height="11"/>
<text class="nm" x="903" y="285">6</text><text class="nm" x="986" y="295">4</text><text class="nm" x="1081" y="293">2</text><text class="nm" x="1196" y="294">1</text><text class="nm" x="1293" y="294">5</text><text class="nm" x="1459" y="295">3</text>
</g>
<g id="AT2G23690">
<text class="lab" x="761" y="322" textLength="109" lengthAdjust="spacingAndGlyphs">AT2G23690</text>
<path class="ln" d="M873,315H1518"/>
<rect class="m6" x="877" y="309.5" width="45" height="11"/><rect class="m4" x="960" y="307.5" width="61" height="11"/><rect class="m2" x="1044" y="309.5" width="84" height="11"/><rect class="m1" x="1175" y="309.5" width="44" height="11"/><rect class="m5" x="1238" y="309.5" width="116" height="11"/>
<text class="nm" x="892" y="324">6</text><text class="nm" x="986" y="324">4</text><text class="nm" x="1081" y="322">2</text><text class="nm" x="1196" y="322">1</text><text class="nm" x="1293" y="323">5</text>
</g>
<g id="AT4G37240">
<text class="lab" x="761" y="354" textLength="109" lengthAdjust="spacingAndGlyphs">AT4G37240</text>
<path class="ln" d="M873,347H1538"/>
<rect class="m6" x="877" y="341.5" width="45" height="11"/><rect class="m4" x="956" y="341.5" width="61" height="11"/><rect class="m2" x="1044" y="341.5" width="84" height="11"/><rect class="m1" x="1175" y="341.5" width="44" height="11"/><rect class="m5" x="1238" y="341.5" width="116" height="11"/>
<text class="nm" x="892" y="356">6</text><text class="nm" x="982" y="355">4</text><text class="nm" x="1081" y="354">2</text><text class="nm" x="1196" y="355">1</text><text class="nm" x="1293" y="355">5</text>
</g>
<g id="AT5G12340">
<text class="lab" x="761" y="383" textLength="109" lengthAdjust="spacingAndGlyphs">AT5G12340</text>
<path class="ln" d="M873,376H1744"/>
<rect class="m2" x="1076" y="370.5" width="84" height="11"/><rect class="m1" x="1194" y="370.5" width="45" height="11"/><rect class="m9" x="1420" y="370.5" width="85" height="11"/><rect class="m7" x="1549" y="370.5" width="81" height="11"/><rect class="m3" x="1644" y="370.5" width="33" height="11"/>
<text class="nm" x="1118" y="384">2</text><text class="nm" x="1216" y="385">1</text><text class="nm" x="1467" y="385">9</text><text class="nm" x="1586" y="384">7</text><text class="nm" x="1665" y="384">3</text>
</g>
<g id="AT1G28190">
<text class="lab" x="761" y="408" textLength="109" lengthAdjust="spacingAndGlyphs">AT1G28190</text>
<path class="ln" d="M873,401H1926"/>
<rect class="m4" x="972" y="395.5" width="61" height="11"/><rect class="m2" x="1076" y="395.5" width="84" height="11"/><rect class="m1" x="1194" y="395.5" width="45" height="11"/><rect class="m10" x="1254" y="395.5" width="84" height="11"/><rect class="m9" x="1424" y="393.5" width="85" height="11"/><rect class="m7" x="1549" y="395.5" width="81" height="11"/><rect class="m3" x="1644" y="395.5" width="33" height="11"/>
<text class="nm" x="1003" y="410">4</text><text class="nm" x="1118" y="409">2</text><text class="nm" x="1216" y="410">1</text><text class="nm" x="1293" y="409" textLength="17" lengthAdjust="spacingAndGlyphs">10</text><text class="nm" x="1467" y="409">9</text><text class="nm" x="1588" y="410">7</text><text class="nm" x="1665" y="409">3</text>
</g>
<g id="AT3G10120">
<text class="lab" x="761" y="434" textLength="109" lengthAdjust="spacingAndGlyphs">AT3G10120</text>
<path class="ln" d="M873,427H1558"/>
<rect class="m6" x="877" y="421.5" width="45" height="11"/><rect class="m4" x="945" y="421.5" width="60" height="11"/><rect class="m8" x="1020" y="421.5" width="61" height="11"/><rect class="m1" x="1155" y="421.5" width="44" height="11"/><rect class="m9" x="1329" y="421.5" width="85" height="11"/><rect class="m3" x="1514" y="421.5" width="33" height="11"/>
<text class="nm" x="899" y="437">6</text><text class="nm" x="970" y="438">4</text><text class="nm" x="1046" y="432">8</text><text class="nm" x="1177" y="435">1</text><text class="nm" x="1371" y="434">9</text><text class="nm" x="1531" y="434">3</text>
</g>
<g id="AT5G03890">
<text class="lab" x="761" y="459" textLength="109" lengthAdjust="spacingAndGlyphs">AT5G03890</text>
<path class="ln" d="M873,452H1582"/>
<rect class="m6" x="877" y="446.5" width="45" height="11"/><rect class="m4" x="945" y="446.5" width="60" height="11"/><rect class="m8" x="1032" y="446.5" width="60" height="11"/><rect class="m1" x="1135" y="446.5" width="45" height="11"/><rect class="m9" x="1305" y="446.5" width="85" height="11"/><rect class="m3" x="1534" y="446.5" width="33" height="11"/>
<text class="nm" x="899" y="453">6</text><text class="nm" x="970" y="460">4</text><text class="nm" x="1062" y="461">8</text><text class="nm" x="1157" y="461">1</text><text class="nm" x="1344" y="462">9</text><text class="nm" x="1550" y="459">3</text>
</g>
<g id="AT3G61920">
<text class="lab" x="761" y="491" textLength="109" lengthAdjust="spacingAndGlyphs">AT3G61920</text>
<path class="ln" d="M873,484H1613"/>
<rect class="m6" x="877" y="478.5" width="45" height="11"/><rect class="m4" x="980" y="478.5" width="61" height="11"/><rect class="m8" x="1047" y="476.5" width="61" height="11"/><rect class="m1" x="1167" y="476.5" width="44" height="11"/><rect class="m7" x="1252" y="478.5" width="80" height="11"/><rect class="m9" x="1385" y="476.5" width="84" height="11"/>
<text class="nm" x="899" y="495">6</text><text class="nm" x="1003" y="494">4</text><text class="nm" x="1077" y="491">8</text><text class="nm" x="1185" y="490">1</text><text class="nm" x="1295" y="495">7</text><text class="nm" x="1424" y="491">9</text>
</g>
<g id="AT1G64700">
<text class="lab" x="761" y="520" textLength="109" lengthAdjust="spacingAndGlyphs">AT1G64700</text>
<path class="ln" d="M873,513H1677"/>
<rect class="m6" x="877" y="507.5" width="45" height="11"/><rect class="m4" x="952" y="505.5" width="61" height="11"/><rect class="m1" x="1147" y="507.5" width="45" height="11"/><rect class="m9" x="1341" y="507.5" width="85" height="11"/><rect class="m4" x="1440" y="507.5" width="61" height="11"/>
<text class="nm" x="899" y="523">6</text><text class="nm" x="982" y="518">4</text><text class="nm" x="1168" y="523">1</text><text class="nm" x="1383" y="520">9</text><text class="nm" x="1463" y="523">4</text>
</g>
<g id="AT1G71015">
<text class="lab" x="761" y="550" textLength="109" lengthAdjust="spacingAndGlyphs">AT1G71015</text>
<path class="ln" d="M873,543H1645"/>
<rect class="m6" x="877" y="537.5" width="45" height="11"/><rect class="m4" x="968" y="537.5" width="61" height="11"/><rect class="m8" x="1044" y="537.5" width="61" height="11"/><rect class="m1" x="1155" y="537.5" width="44" height="11"/><rect class="m9" x="1344" y="537.5" width="86" height="11"/>
<text class="nm" x="899" y="553">6</text><text class="nm" x="998" y="549">4</text><text class="nm" x="1070" y="550">8</text><text class="nm" x="1177" y="552">1</text><text class="nm" x="1387" y="549">9</text>
</g>
<g id="AT1G29195">
<text class="lab" x="761" y="579" textLength="109" lengthAdjust="spacingAndGlyphs">AT1G29195</text>
<path class="ln" d="M873,572H1637"/>
<rect class="m6" x="877" y="566.5" width="45" height="11"/><rect class="m4" x="1012" y="568.5" width="61" height="11"/><rect class="m8" x="1083" y="566.5" width="61" height="11"/><rect class="m1" x="1183" y="566.5" width="44" height="11"/><rect class="m3" x="1553" y="566.5" width="34" height="11"/>
<text class="nm" x="899" y="574">6</text><text class="nm" x="1038" y="581">4</text><text class="nm" x="1118" y="578">8</text><text class="nm" x="1204" y="576">1</text><text class="nm" x="1570" y="579">3</text>
</g>
<g id="AT1G06980">
<text class="lab" x="761" y="608" textLength="109" lengthAdjust="spacingAndGlyphs">AT1G06980</text>
<path class="ln" d="M873,601H1542"/>
<rect class="m6" x="877" y="595.5" width="45" height="11"/><rect class="m4" x="1008" y="595.5" width="60" height="11"/><rect class="m8" x="1079" y="597.5" width="61" height="11"/><rect class="m1" x="1210" y="595.5" width="45" height="11"/><rect class="m3" x="1494" y="595.5" width="33" height="11"/>
<text class="nm" x="899" y="603">6</text><text class="nm" x="1038" y="610">4</text><text class="nm" x="1109" y="610">8</text><text class="nm" x="1228" y="609">1</text><text class="nm" x="1511" y="609">3</text>
</g>
<g id="AT2G03230">
<text class="lab" x="761" y="637" textLength="109" lengthAdjust="spacingAndGlyphs">AT2G03230</text>
<path class="ln" d="M873,630H1574"/>
<rect class="m6" x="877" y="624.5" width="45" height="11"/><rect class="m4" x="1008" y="624.5" width="60" height="11"/><rect class="m8" x="1079" y="626.5" width="61" height="11"/><rect class="m1" x="1210" y="624.5" width="45" height="11"/><rect class="m3" x="1522" y="624.5" width="33" height="11"/>
<text class="nm" x="899" y="632">6</text><text class="nm" x="1038" y="639">4</text><text class="nm" x="1109" y="639">8</text><text class="nm" x="1228" y="638">1</text><text class="nm" x="1535" y="639">3</text>
</g>
<g id="AT5G67620">
<text class="lab" x="761" y="666" textLength="109" lengthAdjust="spacingAndGlyphs">AT5G67620</text>
<path class="ln" d="M873,659H1594"/>
<rect class="m6" x="877" y="653.5" width="45" height="11"/><rect class="m4" x="956" y="653.5" width="61" height="11"/><rect class="m8" x="1024" y="653.5" width="61" height="11"/><rect class="m1" x="1206" y="653.5" width="45" height="11"/><rect class="m3" x="1529" y="653.5" width="33" height="11"/>
<text class="nm" x="899" y="661">6</text><text class="nm" x="982" y="663">4</text><text class="nm" x="1054" y="668">8</text><text class="nm" x="1228" y="667">1</text><text class="nm" x="1543" y="668">3</text>
</g>
<g id="AT5G62900">
<text class="lab" x="761" y="696" textLength="109" lengthAdjust="spacingAndGlyphs">AT5G62900</text>
<path class="ln" d="M873,689H1510"/>
<rect class="m6" x="877" y="683.5" width="45" height="11"/><rect class="m4" x="968" y="683.5" width="61" height="11"/><rect class="m8" x="1047" y="683.5" width="61" height="11"/><rect class="m1" x="1183" y="683.5" width="44" height="11"/><rect class="m4" x="1274" y="683.5" width="61" height="11"/><rect class="m3" x="1463" y="683.5" width="33" height="11"/>
<text class="nm" x="899" y="691">6</text><text class="nm" x="998" y="698">4</text><text class="nm" x="1066" y="700">8</text><text class="nm" x="1209" y="701">1</text><text class="nm" x="1304" y="698">4</text><text class="nm" x="1475" y="697">3</text>
</g>
<g id="AT5G50090">
<text class="lab" x="761" y="728" textLength="109" lengthAdjust="spacingAndGlyphs">AT5G50090</text>
<path class="ln" d="M873,721H1503"/>
<rect class="m6" x="877" y="715.5" width="45" height="11"/><rect class="m4" x="968" y="715.5" width="61" height="11"/><rect class="m8" x="1047" y="715.5" width="61" height="11"/><rect class="m1" x="1214" y="713.5" width="45" height="11"/><rect class="m7" x="1359" y="715.5" width="81" height="11"/><rect class="m3" x="1454" y="715.5" width="33" height="11"/>
<text class="nm" x="899" y="723">6</text><text class="nm" x="998" y="730">4</text><text class="nm" x="1066" y="732">8</text><text class="nm" x="1240" y="728">1</text><text class="nm" x="1403" y="730">7</text><text class="nm" x="1475" y="729">3</text>
</g>
<g id="AT1G10530">
<text class="lab" x="761" y="757" textLength="109" lengthAdjust="spacingAndGlyphs">AT1G10530</text>
<path class="ln" d="M873,750H1531"/>
<rect class="m6" x="877" y="744.5" width="45" height="11"/><rect class="m4" x="964" y="744.5" width="61" height="11"/><rect class="m8" x="1036" y="744.5" width="61" height="11"/><rect class="m1" x="1231" y="742.5" width="44" height="11"/><rect class="m3" x="1478" y="742.5" width="33" height="11"/>
<text class="nm" x="899" y="752">6</text><text class="nm" x="991" y="758">4</text><text class="nm" x="1070" y="758">8</text><text class="nm" x="1256" y="758">1</text><text class="nm" x="1499" y="757">3</text>
</g>
<g id="AT1G60010">
<text class="lab" x="761" y="786" textLength="109" lengthAdjust="spacingAndGlyphs">AT1G60010</text>
<path class="ln" d="M873,779H1550"/>
<rect class="m6" x="877" y="773.5" width="45" height="11"/><rect class="m4" x="964" y="773.5" width="61" height="11"/><rect class="m8" x="1036" y="773.5" width="61" height="11"/><rect class="m1" x="1210" y="773.5" width="45" height="11"/><rect class="m3" x="1513" y="773.5" width="34" height="11"/>
<text class="nm" x="899" y="781">6</text><text class="nm" x="998" y="788">4</text><text class="nm" x="1066" y="785">8</text><text class="nm" x="1228" y="788">1</text><text class="nm" x="1531" y="788">3</text>
</g>

<g id="legend">
<rect class="m1" x="1815" y="437" width="42" height="10"/><text class="leg" x="1868" y="449">motif1</text>
<rect class="m2" x="1815" y="463" width="42" height="10"/><text class="leg" x="1868" y="474">motif2</text>
<rect class="m3" x="1815" y="490" width="42" height="10"/><text class="leg" x="1868" y="503">motif3</text>
<rect x="1815" y="516" width="42" height="10" fill="#033333"/><text class="leg" x="1868" y="528">motif4</text>
<rect class="m5" x="1815" y="544" width="42" height="10"/><text class="leg" x="1873" y="555">motif5</text>
<rect class="m6" x="1815" y="569" width="42" height="10"/><text class="leg" x="1873" y="581">motif6</text>
<rect class="m7" x="1815" y="594" width="42" height="10"/><text class="leg" x="1873" y="602">motif7</text>
<rect class="m8" x="1815" y="624" width="42" height="10"/><text class="leg" x="1873" y="632">motif8</text>
<rect class="m9" x="1815" y="652" width="42" height="10"/><text class="leg" x="1873" y="662">motif9</text>
<rect class="m10" x="1815" y="680" width="42" height="10"/><text class="leg" x="1871" y="688">motif10</text>
</g>
</g>
</svg>
